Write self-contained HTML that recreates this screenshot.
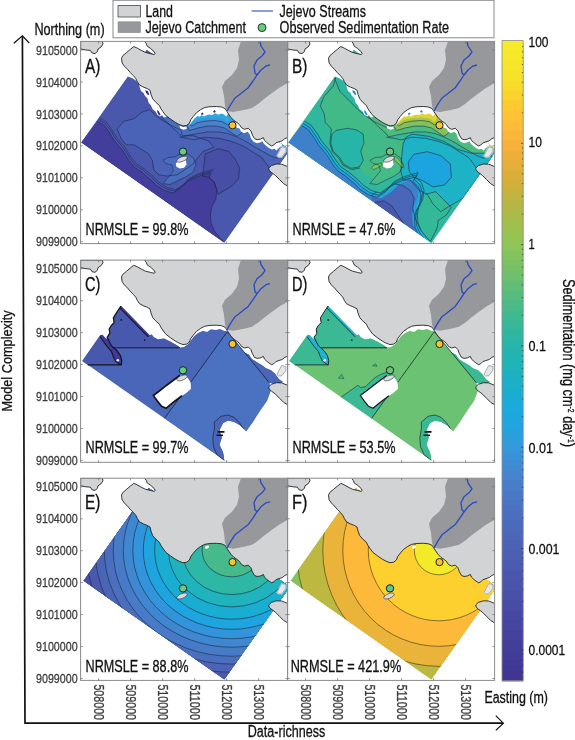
<!DOCTYPE html>
<html lang="en"><head><meta charset="utf-8"><title>Sedimentation model comparison</title>
<style>html,body{margin:0;padding:0;background:#fff}svg{display:block}</style></head>
<body>
<svg width="575" height="740" viewBox="0 0 575 740" font-family="'Liberation Sans', Arial, sans-serif">
<rect width="575" height="740" fill="#fff"/>
<defs>
<clipPath id="pc"><rect x="80.6" y="41.4" width="207.0" height="202.2"/></clipPath>
<clipPath id="dom"><path d="M81.0 142.4 L146.7 49.4 L290.1 150.0 L224.4 243.0Z"/></clipPath>
</defs>
<g transform="translate(0.0,0.0)">
<g clip-path="url(#pc)">
<g clip-path="url(#dom)"><path d="M81.0 142.4 L146.7 49.4 L290.1 150.0 L224.4 243.0Z" fill="#4957ad"/>
<path d="M179.2 137.2 L187.1 138.3 L193.9 139.9 L205.2 137.2 L218.8 138.3 L232.3 141.7 L243.7 146.2 L252.7 151.9 L261.7 157.5 L268.5 166.6 L271.9 172.2 L290.0 150.0 L290.0 100.0 L196.0 100.0 L194.0 113.0Z" fill="#4a63b6"/>
<path d="M117.1 129.1 L123.7 121.3 L134.1 118.7 L141.9 112.2 L149.7 109.6 L156.3 116.1 L164.1 121.3 L173.2 126.5 L181.0 130.4 L182.3 135.7 L192.8 135.7 L200.6 138.3 L208.4 140.9 L213.7 147.4 L203.2 151.3 L196.7 159.1 L192.8 164.3 L185.0 169.6 L177.1 174.8 L166.7 176.1 L158.9 174.8 L153.7 169.6 L152.3 160.4 L148.4 153.9 L140.6 148.7 L134.1 144.8 L126.3 144.8 L121.0 138.3Z" fill="#4a63b6"/>
<path d="M163.0 160.5 L168.0 157.5 L174.5 157.0 L179.0 154.5 L188.0 154.0 L193.5 158.0 L196.0 165.0 L193.0 172.0 L186.5 176.5 L178.0 180.5 L170.0 184.5 L163.0 183.5 L168.0 177.5 L173.5 171.0 L172.0 165.0 L166.0 163.5Z" fill="#4a6ebe"/>
<path d="M150.0 101.5 L156.0 109.5 L162.0 117.0 L168.0 123.5 L174.0 129.0 L179.0 133.5 L181.5 136.9 L189.4 135.1 L198.4 133.5 L207.5 131.9 L218.8 131.9 L227.8 133.5 L236.9 136.9 L245.9 141.4 L255.0 147.1 L262.9 151.6 L270.8 156.1 L277.6 158.4 L290.0 150.0 L290.0 100.0 L196.0 100.0 L194.0 113.0Z" fill="#4a6ebe"/>
<path d="M187.0 126.3 L189.4 130.6 L198.4 127.9 L207.5 126.1 L216.5 126.1 L224.4 127.9 L230.1 131.8 L236.9 136.3 L241.0 133.5 L243.5 130.5 L290.0 150.0 L290.0 100.0 L196.0 100.0 L194.0 113.0Z" fill="#4a80cc"/>
<path d="M189.5 124.0 L191.7 126.1 L197.3 122.7 L205.2 121.1 L214.3 120.5 L222.2 121.6 L227.8 125.0 L229.5 123.5 L233.5 121.0 L290.0 150.0 L290.0 100.0 L196.0 100.0 L194.0 113.0Z" fill="#3f95dc"/>
<path d="M191.5 120.5 L191.7 123.1 L197.3 119.7 L205.2 118.1 L214.3 117.5 L222.2 118.6 L227.8 122.0 L230.5 117.0 L290.0 150.0 L290.0 100.0 L196.0 100.0 L194.0 113.0Z" fill="#2aa8e0"/>
<path d="M202.6 176.1 L203.9 165.7 L205.2 153.9 L218.3 148.7 L228.7 151.3 L235.2 159.1 L239.7 168.3 L238.6 178.7 L231.3 186.5 L223.0 191.2 L218.3 194.3 L217.0 190.4 L214.3 182.6 L209.1 177.4Z" fill="#464ea5"/>
<path d="M81.0 142.4 L97.6 121.3 L104.1 125.2 L110.6 134.3 L114.5 140.9 L122.3 150.0 L128.9 160.4 L134.1 167.0 L141.9 172.2 L149.7 178.7 L156.3 185.2 L164.1 190.4 L173.2 193.0 L181.0 187.8 L187.6 181.3 L195.4 177.4 L203.2 174.8 L211.0 172.7 L209.1 177.4 L214.3 182.6 L217.0 190.4 L215.7 199.6 L211.7 207.4 L210.4 215.2 L211.0 223.0 L214.3 230.9 L219.6 237.4 L223.5 241.3 L224.4 243.0Z" fill="#433e9b"/>
<path d="M189.5 124.0 L191.7 126.1 L197.3 122.7 L205.2 121.1 L214.3 120.5 L222.2 121.6 L227.8 125.0 L229.5 123.5 L233.5 121.0" fill="none" stroke="#1b2340" stroke-width="0.55" stroke-linejoin="round"/>
<path d="M187.0 126.3 L189.4 130.6 L198.4 127.9 L207.5 126.1 L216.5 126.1 L224.4 127.9 L230.1 131.8 L236.9 136.3 L241.0 133.5 L243.5 130.5" fill="none" stroke="#1b2340" stroke-width="0.55" stroke-linejoin="round"/>
<path d="M150.0 101.5 L156.0 109.5 L162.0 117.0 L168.0 123.5 L174.0 129.0 L179.0 133.5 L181.5 136.9 L189.4 135.1 L198.4 133.5 L207.5 131.9 L218.8 131.9 L227.8 133.5 L236.9 136.9 L245.9 141.4 L255.0 147.1 L262.9 151.6 L270.8 156.1 L277.6 158.4" fill="none" stroke="#1b2340" stroke-width="0.55" stroke-linejoin="round"/>
<path d="M179.2 137.2 L187.1 138.3 L193.9 139.9 L205.2 137.2 L218.8 138.3 L232.3 141.7 L243.7 146.2 L252.7 151.9 L261.7 157.5 L268.5 166.6 L271.9 172.2" fill="none" stroke="#1b2340" stroke-width="0.55" stroke-linejoin="round"/>
<path d="M117.1 129.1 L123.7 121.3 L134.1 118.7 L141.9 112.2 L149.7 109.6 L156.3 116.1 L164.1 121.3 L173.2 126.5 L181.0 130.4 L182.3 135.7 L192.8 135.7 L200.6 138.3 L208.4 140.9 L213.7 147.4 L203.2 151.3 L196.7 159.1 L192.8 164.3 L185.0 169.6 L177.1 174.8 L166.7 176.1 L158.9 174.8 L153.7 169.6 L152.3 160.4 L148.4 153.9 L140.6 148.7 L134.1 144.8 L126.3 144.8 L121.0 138.3Z" fill="none" stroke="#1b2340" stroke-width="0.55" stroke-linejoin="round"/>
<path d="M202.6 176.1 L203.9 165.7 L205.2 153.9 L218.3 148.7 L228.7 151.3 L235.2 159.1 L239.7 168.3 L238.6 178.7 L231.3 186.5 L223.0 191.2 L218.3 194.3 L217.0 190.4 L214.3 182.6 L209.1 177.4Z" fill="none" stroke="#1b2340" stroke-width="0.55" stroke-linejoin="round"/>
<path d="M163.0 160.5 L168.0 157.5 L174.5 157.0 L179.0 154.5 L188.0 154.0 L193.5 158.0 L196.0 165.0 L193.0 172.0 L186.5 176.5 L178.0 180.5 L170.0 184.5 L163.0 183.5 L168.0 177.5 L173.5 171.0 L172.0 165.0 L166.0 163.5Z" fill="none" stroke="#1b2340" stroke-width="0.5" stroke-linejoin="round"/>
<path d="M97.6 121.3 L104.1 125.2 L110.6 134.3 L114.5 140.9 L122.3 150.0 L128.9 160.4 L134.1 167.0 L141.9 172.2 L149.7 178.7 L156.3 185.2 L164.1 190.4 L173.2 193.0 L181.0 187.8 L187.6 181.3 L195.4 177.4 L203.2 174.8 L211.0 172.7 L209.1 177.4 L214.3 182.6 L217.0 190.4 L215.7 199.6 L211.7 207.4 L210.4 215.2 L211.0 223.0 L214.3 230.9 L219.6 237.4 L223.5 241.3" fill="none" stroke="#1b2340" stroke-width="0.55" stroke-linejoin="round"/>
<path d="M98.8 119.5 L105.3 123.4 L111.9 132.5 L115.8 139.1 L123.6 148.2 L130.1 158.6 L135.4 165.2 L143.2 170.4 L151.0 176.9 L157.5 183.4 L165.4 188.6 L174.5 191.2 L182.3 186.0 L188.8 179.5 L196.7 175.6 L204.5 173.0 L212.3 170.9" fill="none" stroke="#1b2340" stroke-width="0.55" stroke-linejoin="round"/>
<path d="M99.9 118.0 L106.4 121.9 L112.9 131.1 L116.8 137.6 L124.6 146.7 L131.2 157.2 L136.4 163.7 L144.2 168.9 L152.0 175.4 L158.6 181.9 L166.4 187.2 L175.5 189.8 L183.3 184.6 L189.9 178.0 L197.7 174.1 L205.5 171.5 L213.3 169.4" fill="none" stroke="#1b2340" stroke-width="0.45" stroke-linejoin="round"/>
<path d="M189.0 126.0 L191.3 122.6 L194.4 118.6 L197.5 116.0 L199.5 116.8 L201.7 115.2 L204.0 116.4 L205.9 115.4 L209.0 114.6 L212.1 115.0 L215.3 113.2 L218.4 114.8 L221.5 113.6 L224.1 114.4 L226.2 116.5 L229.0 112.0 L222.0 104.0 L205.0 104.0 L193.0 112.0Z" fill="#fff"/>
<path d="M127.6 76.6 L132.5 78.3 L136.8 81.3 L139.2 84.8 L139.8 87.5 L141.0 91.0 L143.5 93.0 L145.0 96.0 L147.5 98.5 L148.5 102.5 L151.0 105.5 L152.5 109.0 L155.5 111.5 L157.5 115.0 L160.0 116.5 L162.0 115.2 L164.0 117.5 L166.5 116.8 L167.0 114.0 L160.0 104.0 L152.0 94.0 L150.0 88.0 L143.0 85.0 L134.0 74.0 L129.0 70.0Z" fill="#fff"/>
<path d="M234.0 122.0 L236.5 127.5 L239.5 128.5 L241.0 131.5 L244.0 133.2 L247.5 131.8 L249.5 134.0 L251.0 138.5 L253.5 141.8 L257.0 143.2 L260.0 142.6 L262.5 141.2 L263.6 143.6 L266.0 145.8 L269.0 148.0 L272.0 149.6 L274.5 148.8 L276.5 150.5 L279.0 148.0 L288.0 140.0 L288.0 130.0 L260.0 130.0 L245.0 122.0Z" fill="#fff"/>
<path d="M179.5 125.5 L183.0 127.0 L186.5 126.5 L186.8 128.8 L183.5 129.8 L180.0 128.2Z" fill="#fff"/>
<path d="M145.2 90.2 l2.6 0.8 l1.6 3.4 l-1.4 0.6 l-2 -2.2Z M157.2 109.8 l1.8 1.6 l1.6 3.6 l-1.6 0.4 l-1.6 -2.8Z M201 113.2 l2 -0.6 l0.6 1.6 l-2 0.8Z M213 111.2 l1.8 -1.2 l1 2 l-1.8 0.8Z" fill="#2d2a9c"/></g>
<path d="M144.7 41.4 L146.3 43.7 L147.3 46.3 L150.5 48.4 L154.1 51.6 L155.2 53.7 L154.1 54.5 L150.5 53.7 L145.3 52.4 L141.1 50.3 L136.9 47.9 L133.8 46.6 L130.7 49.0 L126.5 52.6 L122.8 55.7 L121.5 58.3 L122.1 63.0 L124.4 66.2 L127.5 69.3 L130.1 72.4 L133.3 75.6 L135.9 78.7 L137.4 81.8 L139.5 85.0 L143.2 87.0 L147.3 88.6 L150.0 90.2 L151.0 94.3 L152.7 98.8 L155.9 102.4 L159.5 105.6 L160.6 108.2 L162.7 111.3 L165.8 115.5 L170.5 119.1 L175.2 122.3 L178.8 124.3 L183.0 125.9 L186.7 125.4 L189.3 123.3 L190.8 119.7 L193.3 116.4 L196.5 112.7 L200.7 109.6 L204.8 107.5 L210.0 106.7 L216.3 106.5 L221.5 107.0 L225.2 108.6 L226.7 111.2 L228.8 114.3 L230.9 117.4 L234.0 120.6 L237.2 122.7 L239.4 124.6 L241.5 127.7 L244.6 129.3 L248.3 128.3 L250.9 130.9 L252.4 135.0 L254.5 138.7 L257.1 139.7 L260.3 139.2 L263.4 137.7 L264.4 140.3 L266.5 142.3 L269.1 144.4 L271.7 146.0 L273.8 145.0 L275.9 142.9 L279.0 141.8 L282.2 140.8 L284.8 138.7 L287.6 137.5 L287.6 41.4Z" fill="#d2d3d5"/>
<path d="M144.7 41.4 L146.3 43.7 L147.3 46.3 L150.5 48.4 L154.1 51.6 L155.2 53.7 L154.1 54.5 L150.5 53.7 L145.3 52.4 L141.1 50.3 L136.9 47.9 L133.8 46.6 L130.7 49.0 L126.5 52.6 L122.8 55.7 L121.5 58.3 L122.1 63.0 L124.4 66.2 L127.5 69.3 L130.1 72.4 L133.3 75.6 L135.9 78.7 L137.4 81.8 L139.5 85.0 L143.2 87.0 L147.3 88.6 L150.0 90.2 L151.0 94.3 L152.7 98.8 L155.9 102.4 L159.5 105.6 L160.6 108.2 L162.7 111.3 L165.8 115.5 L170.5 119.1 L175.2 122.3 L178.8 124.3 L183.0 125.9 L186.7 125.4 L189.3 123.3 L190.8 119.7 L193.3 116.4 L196.5 112.7 L200.7 109.6 L204.8 107.5 L210.0 106.7 L216.3 106.5 L221.5 107.0 L225.2 108.6 L226.7 111.2 L228.8 114.3 L230.9 117.4 L234.0 120.6 L237.2 122.7 L239.4 124.6 L241.5 127.7 L244.6 129.3 L248.3 128.3 L250.9 130.9 L252.4 135.0 L254.5 138.7 L257.1 139.7 L260.3 139.2 L263.4 137.7 L264.4 140.3 L266.5 142.3 L269.1 144.4 L271.7 146.0 L273.8 145.0 L275.9 142.9 L279.0 141.8 L282.2 140.8 L284.8 138.7 L287.6 137.5" fill="none" stroke="#222" stroke-width="0.9" stroke-linejoin="round"/>
<path d="M80.6 41.4 L102.4 41.4 L103.0 44.0 L101.0 47.0 L98.0 49.0 L97.4 51.6 L95.0 53.6 L92.0 53.0 L90.4 50.4 L86.0 50.0 L80.6 49.0Z" fill="#d2d3d5" stroke="#222" stroke-width="0.9"/>
<path d="M268.7 168.2 L271.3 165.6 L276.5 164.0 L281.7 164.2 L287.6 166.6 L287.6 186.0 L283.8 183.8 L279.7 179.7 L275.5 175.5 L271.3 172.3 L269.2 170.3Z" fill="#d2d3d5" stroke="#222" stroke-width="0.9"/>
<path d="M277.0 155.7 L281.7 146.8 L285.9 147.8 L285.9 151.5 L281.7 157.2 L278.6 157.2Z" fill="#e6e6e9" stroke="#fff" stroke-width="1.2"/>
<path d="M277.0 155.7 L281.7 146.8 L285.9 147.8 L285.9 151.5 L281.7 157.2 L278.6 157.2Z" fill="none" stroke="#222" stroke-width="0.4"/>
<path d="M241.0 41.4 L238.0 50.0 L239.0 60.0 L237.0 68.0 L232.0 75.0 L225.0 81.0 L222.0 87.0 L224.0 96.0 L225.0 106.0 L227.0 111.0 L233.0 112.0 L244.0 110.0 L252.0 108.0 L258.0 104.0 L264.0 99.0 L272.0 93.0 L279.0 88.0 L287.6 83.0 L287.6 41.4Z" fill="#96989b"/>
<path d="M260.0 41.4 L261.0 46.0 L265.0 52.0 L262.0 56.0 L257.0 60.0 L254.0 66.0 L255.0 73.0 L257.0 75.0 L253.0 81.0 L248.0 88.0 L244.0 91.0 L239.0 95.0 L235.0 98.0 L231.0 104.0 L227.0 111.0" fill="none" stroke="#2a4ac4" stroke-width="1.35" stroke-linejoin="round"/>
<path d="M270.0 65.0 L266.0 66.0 L261.0 70.0 L257.0 75.0" fill="none" stroke="#2a4ac4" stroke-width="1.35" stroke-linejoin="round"/>
<path d="M175.8 163.5 L178.5 160.5 L186 160.2 L186.5 164.5 L184 167.8 L179.5 168.4 L176.2 166.5Z" fill="#fff"/>
<ellipse cx="182.0" cy="159.2" rx="5.6" ry="2.3" transform="rotate(-22 182.0 159.2)" fill="#d8d9db" stroke="#222" stroke-width="0.5"/>
<circle cx="232.5" cy="125.3" r="3.6" fill="#fcc32f" stroke="#222" stroke-width="1"/><circle cx="183.0" cy="151.6" r="3.7" fill="#62cf74" stroke="#1c1c2c" stroke-width="1"/>
</g>
<rect x="80.6" y="41.4" width="207.0" height="202.2" fill="none" stroke="#8a8a8a" stroke-width="1"/>
<path d="M80.6 50.0h2.2 M287.6 50.0h-2.2 M80.6 82.0h2.2 M287.6 82.0h-2.2 M80.6 113.9h2.2 M287.6 113.9h-2.2 M80.6 145.8h2.2 M287.6 145.8h-2.2 M80.6 177.8h2.2 M287.6 177.8h-2.2 M80.6 209.8h2.2 M287.6 209.8h-2.2 M80.6 241.7h2.2 M287.6 241.7h-2.2 M98.6 41.4v2.2 M98.6 243.6v-2.2 M130.6 41.4v2.2 M130.6 243.6v-2.2 M162.6 41.4v2.2 M162.6 243.6v-2.2 M194.6 41.4v2.2 M194.6 243.6v-2.2 M226.6 41.4v2.2 M226.6 243.6v-2.2 M258.6 41.4v2.2 M258.6 243.6v-2.2" stroke="#6a6a6a" stroke-width="0.7" fill="none"/>
<text x="85.0" y="72.6" font-size="20.3" text-anchor="start" fill="#111" stroke="#111" stroke-width="0.3" textLength="15.4" lengthAdjust="spacingAndGlyphs">A)</text>
<text x="85.6" y="234.8" font-size="16.0" text-anchor="start" fill="#111" stroke="#111" stroke-width="0.3" textLength="102.8" lengthAdjust="spacingAndGlyphs">NRMSLE = 99.8%</text>
</g>
<g transform="translate(207.0,0.0)">
<g clip-path="url(#pc)">
<g clip-path="url(#dom)"><path d="M81.0 142.4 L146.7 49.4 L290.1 150.0 L224.4 243.0Z" fill="#42ba88"/>
<path d="M81.0 142.4 L97.6 121.3 L128.6 76.1 L128.9 77.0 L126.3 86.1 L117.1 96.5 L113.2 105.7 L117.1 113.5 L118.4 122.6 L124.4 129.1 L122.9 143.5 L125.5 151.8 L132.0 158.6 L135.9 165.1 L144.5 169.6 L153.1 168.0 L157.6 174.8 L165.4 178.7 L177.1 176.9 L186.3 171.7 L194.1 165.7 L200.6 157.0 L208.4 151.8 L218.9 148.7 L224.1 153.9 L222.8 164.3 L213.7 172.7 L211.0 172.7 L203.2 174.8 L195.4 177.4 L187.6 181.3 L181.0 187.8 L173.2 193.0 L164.1 190.4 L156.3 185.2 L149.7 178.7 L141.9 172.2 L134.1 167.0 L128.9 160.4 L122.3 150.0 L114.5 140.9 L110.6 134.3 L104.1 125.2 L97.6 121.3Z" fill="#31b79c"/>
<path d="M127.6 78.3 L132.8 91.3 L140.6 99.1 L151.0 109.6 L158.9 116.1 L166.7 121.3 L177.1 126.5 L182.3 128.3 L187.6 122.6 L156.3 86.1 L143.2 73.0Z" fill="#2cb6a2"/>
<path d="M196.1 139.6 L262.6 168.3 L286.1 157.8 L286.1 251.7 L192.2 251.7 L192.2 176.1Z" fill="#31b79c"/>
<path d="M125.0 134.3 L128.9 130.4 L140.6 128.3 L149.7 129.9 L156.3 134.3 L156.8 143.5 L153.7 151.3 L156.3 160.4 L152.3 167.0 L144.5 168.3 L136.7 164.3 L132.8 157.8 L126.3 151.3 L123.7 143.5Z" fill="#27b5a8"/>
<path d="M163.0 160.5 L168.0 157.5 L174.5 157.0 L179.0 154.5 L188.0 154.0 L193.5 158.0 L196.0 165.0 L193.0 172.0 L186.5 176.5 L178.0 180.5 L170.0 184.5 L163.0 183.5 L168.0 177.5 L173.5 171.0 L172.0 165.0 L166.0 163.5Z" fill="#45bb85"/>
<path d="M179.2 137.2 L187.1 138.3 L193.9 139.9 L205.2 137.2 L218.8 138.3 L232.3 141.7 L243.7 146.2 L252.7 151.9 L261.7 157.5 L268.5 166.6 L271.9 172.2 L290.0 150.0 L290.0 100.0 L196.0 100.0 L194.0 113.0Z" fill="#35b896"/>
<path d="M150.0 101.5 L156.0 109.5 L162.0 117.0 L168.0 123.5 L174.0 129.0 L179.0 133.5 L181.5 136.9 L189.4 135.1 L198.4 133.5 L207.5 131.9 L218.8 131.9 L227.8 133.5 L236.9 136.9 L245.9 141.4 L255.0 147.1 L262.9 151.6 L270.8 156.1 L277.6 158.4 L290.0 150.0 L290.0 100.0 L196.0 100.0 L194.0 113.0Z" fill="#4dbb80"/>
<path d="M187.0 126.3 L189.4 130.6 L198.4 127.9 L207.5 126.1 L216.5 126.1 L224.4 127.9 L230.1 131.8 L236.9 136.3 L241.0 133.5 L243.5 130.5 L290.0 150.0 L290.0 100.0 L196.0 100.0 L194.0 113.0Z" fill="#7fc35f"/>
<path d="M189.5 124.0 L191.7 126.1 L197.3 122.7 L205.2 121.1 L214.3 120.5 L222.2 121.6 L227.8 125.0 L229.5 123.5 L233.5 121.0 L290.0 150.0 L290.0 100.0 L196.0 100.0 L194.0 113.0Z" fill="#a8c64a"/>
<path d="M191.5 120.5 L191.7 123.1 L197.3 119.7 L205.2 118.1 L214.3 117.5 L222.2 118.6 L227.8 122.0 L230.5 117.0 L290.0 150.0 L290.0 100.0 L196.0 100.0 L194.0 113.0Z" fill="#dcd338"/>
<path d="M196.2 143.3 L199.3 137.1 L205.0 134.1 L222.2 136.4 L237.5 141.7 L250.9 149.4 L264.3 153.2 L277.7 153.2 L285.7 156.6 L266.2 183.8 L255.9 198.4 L241.4 206.8 L233.7 211.7 L226.0 204.1 L220.3 194.5 L212.7 190.7 L203.1 180.0 L196.2 180.0 L193.9 171.6 L194.7 156.3Z" fill="#1db2c6"/>
<path d="M201.2 162.0 L206.9 154.3 L220.3 151.7 L233.7 155.5 L243.3 163.9 L244.4 177.3 L237.5 185.0 L226.0 186.9 L216.5 181.1 L206.9 177.3 L202.3 171.6Z" fill="#1ca4de"/>
<path d="M218.3 194.3 L228.7 191.7 L236.5 199.6 L244.3 207.4 L239.1 215.2 L231.3 220.4 L230.0 228.3 L226.1 236.1 L223.5 241.3 L219.6 237.4 L214.3 230.9 L211.0 223.0 L210.4 215.2 L211.7 207.4 L215.7 199.6Z" fill="#33b898"/>
<path d="M164.5 168.0 L167.0 165.0 L172.0 163.5 L175.0 163.0 L174.0 166.0 L169.0 168.5 L166.0 169.5Z" fill="#7cc65e" stroke="#1b2340" stroke-width="0.4"/>
<path d="M186.5 156.5 L189.5 157.0 L193.0 161.0 L196.5 165.0 L197.0 168.0 L194.0 167.0 L191.0 163.0 L188.0 161.0Z" fill="#7cc65e" stroke="#1b2340" stroke-width="0.4"/>
<clipPath id="deepclip"><path d="M81.0 142.4 L97.6 121.3 L104.1 125.2 L110.6 134.3 L114.5 140.9 L122.3 150.0 L128.9 160.4 L134.1 167.0 L141.9 172.2 L149.7 178.7 L156.3 185.2 L164.1 190.4 L173.2 193.0 L181.0 187.8 L187.6 181.3 L195.4 177.4 L203.2 174.8 L211.0 172.7 L209.1 177.4 L214.3 182.6 L217.0 190.4 L215.7 199.6 L211.7 207.4 L210.4 215.2 L211.0 223.0 L214.3 230.9 L219.6 237.4 L223.5 241.3 L224.4 243.0Z"/></clipPath>
<g clip-path="url(#deepclip)"><path d="M81.0 142.4 L97.6 121.3 L104.1 125.2 L110.6 134.3 L114.5 140.9 L122.3 150.0 L128.9 160.4 L134.1 167.0 L141.9 172.2 L149.7 178.7 L156.3 185.2 L164.1 190.4 L173.2 193.0 L181.0 187.8 L187.6 181.3 L195.4 177.4 L203.2 174.8 L211.0 172.7 L209.1 177.4 L214.3 182.6 L217.0 190.4 L215.7 199.6 L211.7 207.4 L210.4 215.2 L211.0 223.0 L214.3 230.9 L219.6 237.4 L223.5 241.3 L224.4 243.0Z" fill="#3f80cb"/>
<path d="M164.1 195.7 L171.9 190.4 L181.0 187.8 L187.6 183.9 L195.4 185.2 L203.2 190.4 L207.1 198.3 L205.8 208.7 L208.4 219.1 L213.7 229.6 L220.2 237.4 L224.3 242.9 L166.7 202.4Z" fill="#4a66b8"/>
<path d="M168.0 202.4 L177.1 200.9 L185.0 206.1 L190.2 213.9 L195.4 221.7 L200.1 228.3 L203.2 230.9 L182.3 213.9Z" fill="#4a58ac"/>
<path d="M97.6 121.3 L104.1 125.2 L110.6 134.3 L114.5 140.9 L122.3 150.0 L128.9 160.4 L134.1 167.0 L141.9 172.2 L149.7 178.7 L156.3 185.2 L164.1 190.4 L173.2 193.0 L181.0 187.8 L187.6 181.3 L195.4 177.4 L203.2 174.8 L211.0 172.7 L209.1 177.4 L214.3 182.6 L217.0 190.4 L215.7 199.6 L211.7 207.4 L210.4 215.2 L211.0 223.0 L214.3 230.9 L219.6 237.4 L223.5 241.3" fill="none" stroke="#1fa5dc" stroke-width="10.4" stroke-linejoin="round"/>
<path d="M97.6 121.3 L104.1 125.2 L110.6 134.3 L114.5 140.9 L122.3 150.0 L128.9 160.4 L134.1 167.0 L141.9 172.2 L149.7 178.7 L156.3 185.2 L164.1 190.4 L173.2 193.0 L181.0 187.8 L187.6 181.3 L195.4 177.4 L203.2 174.8 L211.0 172.7 L209.1 177.4 L214.3 182.6 L217.0 190.4 L215.7 199.6 L211.7 207.4 L210.4 215.2 L211.0 223.0 L214.3 230.9 L219.6 237.4 L223.5 241.3" fill="none" stroke="#1fb5c8" stroke-width="5.2" stroke-linejoin="round"/>
<path d="M96.1 123.4 L102.6 127.3 L109.1 136.5 L113.0 143.0 L120.9 152.1 L127.4 162.6 L132.6 169.1 L140.4 174.3 L148.2 180.8 L154.8 187.3 L162.6 192.6 L171.7 195.2 L179.6 190.0 L186.1 183.4 L193.9 179.5 L201.7 176.9 L209.6 174.8 L207.6 179.5 L212.9 184.7 L215.5 192.6 L214.2 201.7 L210.2 209.5 L208.9 217.3 L209.5 225.2 L212.9 233.0 L218.1 239.5 L222.0 243.4" fill="none" stroke="#1b2340" stroke-width="0.55" stroke-linejoin="round"/><path d="M94.6 125.6 L101.1 129.5 L107.6 138.6 L111.5 145.1 L119.4 154.3 L125.9 164.7 L131.1 171.2 L138.9 176.4 L146.8 183.0 L153.3 189.5 L161.1 194.7 L170.2 197.3 L178.1 192.1 L184.6 185.6 L192.4 181.7 L200.2 179.0 L208.1 177.0 L206.1 181.7 L211.4 186.9 L214.0 194.7 L212.7 203.8 L208.8 211.7 L207.5 219.5 L208.0 227.3 L211.4 235.1 L216.6 241.7 L220.5 245.6" fill="none" stroke="#1b2340" stroke-width="0.55" stroke-linejoin="round"/>
<path d="M164.1 195.7 L171.9 190.4 L181.0 187.8 L187.6 183.9 L195.4 185.2 L203.2 190.4 L207.1 198.3 L205.8 208.7 L208.4 219.1 L213.7 229.6 L220.2 237.4" fill="none" stroke="#1b2340" stroke-width="0.55" stroke-linejoin="round"/><path d="M168.0 202.4 L177.1 200.9 L185.0 206.1 L190.2 213.9 L195.4 221.7 L200.1 228.3 L203.2 230.9" fill="none" stroke="#1b2340" stroke-width="0.55" stroke-linejoin="round"/>
</g>
<path d="M189.5 124.0 L191.7 126.1 L197.3 122.7 L205.2 121.1 L214.3 120.5 L222.2 121.6 L227.8 125.0 L229.5 123.5 L233.5 121.0" fill="none" stroke="#1b2340" stroke-width="0.55" stroke-linejoin="round"/>
<path d="M187.0 126.3 L189.4 130.6 L198.4 127.9 L207.5 126.1 L216.5 126.1 L224.4 127.9 L230.1 131.8 L236.9 136.3 L241.0 133.5 L243.5 130.5" fill="none" stroke="#1b2340" stroke-width="0.55" stroke-linejoin="round"/>
<path d="M150.0 101.5 L156.0 109.5 L162.0 117.0 L168.0 123.5 L174.0 129.0 L179.0 133.5 L181.5 136.9 L189.4 135.1 L198.4 133.5 L207.5 131.9 L218.8 131.9 L227.8 133.5 L236.9 136.9 L245.9 141.4 L255.0 147.1 L262.9 151.6 L270.8 156.1 L277.6 158.4" fill="none" stroke="#1b2340" stroke-width="0.55" stroke-linejoin="round"/>
<path d="M179.2 137.2 L187.1 138.3 L193.9 139.9 L205.2 137.2 L218.8 138.3 L232.3 141.7 L243.7 146.2 L252.7 151.9 L261.7 157.5 L268.5 166.6 L271.9 172.2" fill="none" stroke="#1b2340" stroke-width="0.55" stroke-linejoin="round"/>
<path d="M125.0 134.3 L128.9 130.4 L140.6 128.3 L149.7 129.9 L156.3 134.3 L156.8 143.5 L153.7 151.3 L156.3 160.4 L152.3 167.0 L144.5 168.3 L136.7 164.3 L132.8 157.8 L126.3 151.3 L123.7 143.5Z" fill="none" stroke="#1b2340" stroke-width="0.55" stroke-linejoin="round"/>
<path d="M201.2 162.0 L206.9 154.3 L220.3 151.7 L233.7 155.5 L243.3 163.9 L244.4 177.3 L237.5 185.0 L226.0 186.9 L216.5 181.1 L206.9 177.3 L202.3 171.6Z" fill="none" stroke="#1b2340" stroke-width="0.55" stroke-linejoin="round"/>
<path d="M196.2 143.3 L199.3 137.1 L205.0 134.1 L222.2 136.4 L237.5 141.7 L250.9 149.4 L264.3 153.2 L277.7 153.2 L285.7 156.6 L266.2 183.8 L255.9 198.4 L241.4 206.8 L233.7 211.7 L226.0 204.1 L220.3 194.5 L212.7 190.7 L203.1 180.0 L196.2 180.0 L193.9 171.6 L194.7 156.3Z" fill="none" stroke="#1b2340" stroke-width="0.55" stroke-linejoin="round"/>
<path d="M128.9 77.0 L126.3 86.1 L117.1 96.5 L113.2 105.7 L117.1 113.5 L118.4 122.6 L124.4 129.1 L122.9 143.5 L125.5 151.8 L132.0 158.6 L135.9 165.1 L144.5 169.6 L153.1 168.0" fill="none" stroke="#1b2340" stroke-width="0.55" stroke-linejoin="round"/>
<path d="M127.6 78.3 L132.8 91.3 L140.6 99.1 L151.0 109.6 L158.9 116.1 L166.7 121.3 L177.1 126.5 L182.3 128.3" fill="none" stroke="#1b2340" stroke-width="0.55" stroke-linejoin="round"/>
<path d="M218.3 194.3 L228.7 191.7 L236.5 199.6 L244.3 207.4 L239.1 215.2 L231.3 220.4 L230.0 228.3 L226.1 236.1 L223.5 241.3" fill="none" stroke="#1b2340" stroke-width="0.55" stroke-linejoin="round"/>
<path d="M163.0 160.5 L168.0 157.5 L174.5 157.0 L179.0 154.5 L188.0 154.0 L193.5 158.0 L196.0 165.0 L193.0 172.0 L186.5 176.5 L178.0 180.5 L170.0 184.5 L163.0 183.5 L168.0 177.5 L173.5 171.0 L172.0 165.0 L166.0 163.5Z" fill="none" stroke="#1b2340" stroke-width="0.5" stroke-linejoin="round"/>
<path d="M97.6 121.3 L104.1 125.2 L110.6 134.3 L114.5 140.9 L122.3 150.0 L128.9 160.4 L134.1 167.0 L141.9 172.2 L149.7 178.7 L156.3 185.2 L164.1 190.4 L173.2 193.0 L181.0 187.8 L187.6 181.3 L195.4 177.4 L203.2 174.8 L211.0 172.7 L209.1 177.4 L214.3 182.6 L217.0 190.4 L215.7 199.6 L211.7 207.4 L210.4 215.2 L211.0 223.0 L214.3 230.9 L219.6 237.4 L223.5 241.3" fill="none" stroke="#1b2340" stroke-width="0.55" stroke-linejoin="round"/>
<path d="M189.0 126.0 L191.3 122.6 L194.4 118.6 L197.5 116.0 L199.5 116.8 L201.7 115.2 L204.0 116.4 L205.9 115.4 L209.0 114.6 L212.1 115.0 L215.3 113.2 L218.4 114.8 L221.5 113.6 L224.1 114.4 L226.2 116.5 L229.0 112.0 L222.0 104.0 L205.0 104.0 L193.0 112.0Z" fill="#fff"/>
<path d="M127.6 76.6 L132.5 78.3 L136.8 81.3 L139.2 84.8 L139.8 87.5 L141.0 91.0 L143.5 93.0 L145.0 96.0 L147.5 98.5 L148.5 102.5 L151.0 105.5 L152.5 109.0 L155.5 111.5 L157.5 115.0 L160.0 116.5 L162.0 115.2 L164.0 117.5 L166.5 116.8 L167.0 114.0 L160.0 104.0 L152.0 94.0 L150.0 88.0 L143.0 85.0 L134.0 74.0 L129.0 70.0Z" fill="#fff"/>
<path d="M234.0 122.0 L236.5 127.5 L239.5 128.5 L241.0 131.5 L244.0 133.2 L247.5 131.8 L249.5 134.0 L251.0 138.5 L253.5 141.8 L257.0 143.2 L260.0 142.6 L262.5 141.2 L263.6 143.6 L266.0 145.8 L269.0 148.0 L272.0 149.6 L274.5 148.8 L276.5 150.5 L279.0 148.0 L288.0 140.0 L288.0 130.0 L260.0 130.0 L245.0 122.0Z" fill="#fff"/>
<path d="M179.5 125.5 L183.0 127.0 L186.5 126.5 L186.8 128.8 L183.5 129.8 L180.0 128.2Z" fill="#fff"/>
<path d="M145.2 90.2 l2.6 0.8 l1.6 3.4 l-1.4 0.6 l-2 -2.2Z M157.2 109.8 l1.8 1.6 l1.6 3.6 l-1.6 0.4 l-1.6 -2.8Z M201 113.2 l2 -0.6 l0.6 1.6 l-2 0.8Z M213 111.2 l1.8 -1.2 l1 2 l-1.8 0.8Z" fill="#1a8fd0"/></g>
<path d="M144.7 41.4 L146.3 43.7 L147.3 46.3 L150.5 48.4 L154.1 51.6 L155.2 53.7 L154.1 54.5 L150.5 53.7 L145.3 52.4 L141.1 50.3 L136.9 47.9 L133.8 46.6 L130.7 49.0 L126.5 52.6 L122.8 55.7 L121.5 58.3 L122.1 63.0 L124.4 66.2 L127.5 69.3 L130.1 72.4 L133.3 75.6 L135.9 78.7 L137.4 81.8 L139.5 85.0 L143.2 87.0 L147.3 88.6 L150.0 90.2 L151.0 94.3 L152.7 98.8 L155.9 102.4 L159.5 105.6 L160.6 108.2 L162.7 111.3 L165.8 115.5 L170.5 119.1 L175.2 122.3 L178.8 124.3 L183.0 125.9 L186.7 125.4 L189.3 123.3 L190.8 119.7 L193.3 116.4 L196.5 112.7 L200.7 109.6 L204.8 107.5 L210.0 106.7 L216.3 106.5 L221.5 107.0 L225.2 108.6 L226.7 111.2 L228.8 114.3 L230.9 117.4 L234.0 120.6 L237.2 122.7 L239.4 124.6 L241.5 127.7 L244.6 129.3 L248.3 128.3 L250.9 130.9 L252.4 135.0 L254.5 138.7 L257.1 139.7 L260.3 139.2 L263.4 137.7 L264.4 140.3 L266.5 142.3 L269.1 144.4 L271.7 146.0 L273.8 145.0 L275.9 142.9 L279.0 141.8 L282.2 140.8 L284.8 138.7 L287.6 137.5 L287.6 41.4Z" fill="#d2d3d5"/>
<path d="M144.7 41.4 L146.3 43.7 L147.3 46.3 L150.5 48.4 L154.1 51.6 L155.2 53.7 L154.1 54.5 L150.5 53.7 L145.3 52.4 L141.1 50.3 L136.9 47.9 L133.8 46.6 L130.7 49.0 L126.5 52.6 L122.8 55.7 L121.5 58.3 L122.1 63.0 L124.4 66.2 L127.5 69.3 L130.1 72.4 L133.3 75.6 L135.9 78.7 L137.4 81.8 L139.5 85.0 L143.2 87.0 L147.3 88.6 L150.0 90.2 L151.0 94.3 L152.7 98.8 L155.9 102.4 L159.5 105.6 L160.6 108.2 L162.7 111.3 L165.8 115.5 L170.5 119.1 L175.2 122.3 L178.8 124.3 L183.0 125.9 L186.7 125.4 L189.3 123.3 L190.8 119.7 L193.3 116.4 L196.5 112.7 L200.7 109.6 L204.8 107.5 L210.0 106.7 L216.3 106.5 L221.5 107.0 L225.2 108.6 L226.7 111.2 L228.8 114.3 L230.9 117.4 L234.0 120.6 L237.2 122.7 L239.4 124.6 L241.5 127.7 L244.6 129.3 L248.3 128.3 L250.9 130.9 L252.4 135.0 L254.5 138.7 L257.1 139.7 L260.3 139.2 L263.4 137.7 L264.4 140.3 L266.5 142.3 L269.1 144.4 L271.7 146.0 L273.8 145.0 L275.9 142.9 L279.0 141.8 L282.2 140.8 L284.8 138.7 L287.6 137.5" fill="none" stroke="#222" stroke-width="0.9" stroke-linejoin="round"/>
<path d="M80.6 41.4 L102.4 41.4 L103.0 44.0 L101.0 47.0 L98.0 49.0 L97.4 51.6 L95.0 53.6 L92.0 53.0 L90.4 50.4 L86.0 50.0 L80.6 49.0Z" fill="#d2d3d5" stroke="#222" stroke-width="0.9"/>
<path d="M268.7 168.2 L271.3 165.6 L276.5 164.0 L281.7 164.2 L287.6 166.6 L287.6 186.0 L283.8 183.8 L279.7 179.7 L275.5 175.5 L271.3 172.3 L269.2 170.3Z" fill="#d2d3d5" stroke="#222" stroke-width="0.9"/>
<path d="M277.0 155.7 L281.7 146.8 L285.9 147.8 L285.9 151.5 L281.7 157.2 L278.6 157.2Z" fill="#e6e6e9" stroke="#fff" stroke-width="1.2"/>
<path d="M277.0 155.7 L281.7 146.8 L285.9 147.8 L285.9 151.5 L281.7 157.2 L278.6 157.2Z" fill="none" stroke="#222" stroke-width="0.4"/>
<path d="M241.0 41.4 L238.0 50.0 L239.0 60.0 L237.0 68.0 L232.0 75.0 L225.0 81.0 L222.0 87.0 L224.0 96.0 L225.0 106.0 L227.0 111.0 L233.0 112.0 L244.0 110.0 L252.0 108.0 L258.0 104.0 L264.0 99.0 L272.0 93.0 L279.0 88.0 L287.6 83.0 L287.6 41.4Z" fill="#96989b"/>
<path d="M260.0 41.4 L261.0 46.0 L265.0 52.0 L262.0 56.0 L257.0 60.0 L254.0 66.0 L255.0 73.0 L257.0 75.0 L253.0 81.0 L248.0 88.0 L244.0 91.0 L239.0 95.0 L235.0 98.0 L231.0 104.0 L227.0 111.0" fill="none" stroke="#2a4ac4" stroke-width="1.35" stroke-linejoin="round"/>
<path d="M270.0 65.0 L266.0 66.0 L261.0 70.0 L257.0 75.0" fill="none" stroke="#2a4ac4" stroke-width="1.35" stroke-linejoin="round"/>
<path d="M175.8 163.5 L178.5 160.5 L186 160.2 L186.5 164.5 L184 167.8 L179.5 168.4 L176.2 166.5Z" fill="#fff"/>
<ellipse cx="182.0" cy="159.2" rx="5.6" ry="2.3" transform="rotate(-22 182.0 159.2)" fill="#d8d9db" stroke="#222" stroke-width="0.5"/>
<circle cx="232.5" cy="125.3" r="3.6" fill="#fcc32f" stroke="#222" stroke-width="1"/><circle cx="183.0" cy="151.6" r="3.7" fill="#6cc87a" stroke="#1c1c2c" stroke-width="1"/>
</g>
<rect x="80.6" y="41.4" width="207.0" height="202.2" fill="none" stroke="#8a8a8a" stroke-width="1"/>
<path d="M80.6 50.0h2.2 M287.6 50.0h-2.2 M80.6 82.0h2.2 M287.6 82.0h-2.2 M80.6 113.9h2.2 M287.6 113.9h-2.2 M80.6 145.8h2.2 M287.6 145.8h-2.2 M80.6 177.8h2.2 M287.6 177.8h-2.2 M80.6 209.8h2.2 M287.6 209.8h-2.2 M80.6 241.7h2.2 M287.6 241.7h-2.2 M98.6 41.4v2.2 M98.6 243.6v-2.2 M130.6 41.4v2.2 M130.6 243.6v-2.2 M162.6 41.4v2.2 M162.6 243.6v-2.2 M194.6 41.4v2.2 M194.6 243.6v-2.2 M226.6 41.4v2.2 M226.6 243.6v-2.2 M258.6 41.4v2.2 M258.6 243.6v-2.2" stroke="#6a6a6a" stroke-width="0.7" fill="none"/>
<text x="85.0" y="72.6" font-size="20.3" text-anchor="start" fill="#111" stroke="#111" stroke-width="0.3" textLength="15.4" lengthAdjust="spacingAndGlyphs">B)</text>
<text x="85.6" y="234.8" font-size="16.0" text-anchor="start" fill="#111" stroke="#111" stroke-width="0.3" textLength="102.8" lengthAdjust="spacingAndGlyphs">NRMSLE = 47.6%</text>
</g>
<g transform="translate(0.0,218.7)">
<g clip-path="url(#pc)">
<path d="M82.3 142.3 L100.2 116.6 L102.3 117.2 L103.0 122.1 L107.1 127.7 L111.3 132.6 L113.4 138.1 L115.5 142.3 L119.0 145.1 L121.3 146.2 L121.3 146.2 L121.7 141.6 L120.3 136.7 L116.9 131.9 L111.3 127.0 L107.1 118.6 L107.1 118.6 L109.9 114.5 L109.2 110.3 L111.3 106.8 L114.1 104.0 L113.4 99.2 L115.5 95.7 L121.0 87.3 L149.6 116.6 L151.7 115.9 L153.7 118.6 L158.0 120.9 L164.0 119.9 L170.0 122.9 L176.0 126.0 L180.0 128.9 L184.0 128.2 L188.0 125.5 L191.0 121.5 L194.0 117.5 L198.0 114.2 L203.0 112.0 L207.0 113.2 L211.0 110.5 L216.0 111.3 L220.0 110.2 L224.0 112.0 L227.4 112.9 L230.5 119.5 L234.0 125.5 L239.5 130.0 L244.0 133.5 L249.0 136.0 L252.0 140.5 L257.0 143.5 L262.0 146.5 L266.0 149.5 L271.0 151.5 L275.0 155.0 L279.0 160.5 L283.0 163.2 L277.0 165.5 L269.3 164.0 L270.5 172.5 L267.0 182.0 L261.0 190.5 L252.3 204.0 L246.2 212.5 L243.7 210.0 L240.0 206.5 L234.0 203.0 L228.0 201.8 L223.0 204.2 L219.4 211.5 L221.8 218.8 L219.4 226.0 L223.0 233.5 L224.3 241.6Z" fill="#4a66b8"/>
<path d="M227.4 112.9 L269.3 164.0 L270.5 172.5 L267.0 182.0 L261.0 190.5 L252.3 204.0 L246.2 212.5 L243.7 210.0 L240.0 206.5 L234.0 203.0 L228.0 201.8 L223.0 204.2 L219.4 211.5 L221.8 218.8 L219.4 226.0 L223.0 233.5 L224.3 241.6 L164.6 199.6Z" fill="#4a72c0"/>
<path d="M107.1 118.6 L109.9 114.5 L109.2 110.3 L111.3 106.8 L114.1 104.0 L113.4 99.2 L115.5 95.7 L121.0 87.3 L149.6 116.6 L151.7 115.9 L153.7 118.6 L158.0 120.9 L164.0 119.9 L170.0 122.9 L176.0 126.0 L180.0 128.9 L180.0 129.1 L113.4 129.1 L111.3 127.0Z" fill="#4858ad"/>
<path d="M82.3 142.3 L100.2 116.6 L102.3 117.2 L103.0 122.1 L107.1 127.7 L111.3 132.6 L113.4 138.1 L115.5 142.3 L119.0 145.1 L121.3 146.2 L87.8 146.2Z" fill="#4858ad"/>
<path d="M100.6 116.4 L102.6 116.0 L106.4 120.4 L107.1 118.6 L111.3 127.0 L116.9 131.9 L120.3 136.7 L121.7 141.6 L121.3 146.2 L121.3 146.2 L119.0 145.1 L115.5 142.3 L113.4 138.1 L111.3 132.6 L107.1 127.7 L103.0 122.1 L100.2 117.9Z" fill="#3f3a9c"/>
<path d="M121.0 87.3 L149.6 116.6 L148.2 118.2 L119.8 89.2Z" fill="#3f3a9c"/>
<path d="M240.5 129.0 L244.0 133.5 L249.0 136.0 L252.0 140.5 L257.0 143.5 L262.0 146.5 L266.0 149.5 L271.0 151.5 L275.0 155.0 L279.0 160.5 L283.0 163.2 L277.0 165.5 L269.3 164.0Z" fill="#4a66b8"/>
<path d="M214.2 203.5 L221.0 197.6 L228.0 196.3 L234.0 198.6 L239.0 203.6 L243.7 210.0 L246.2 212.5 L243.7 210.0 L240.0 206.5 L234.0 203.0 L228.0 201.8 L223.0 204.2 L219.4 211.5 L221.8 218.8 L219.4 226.0 L223.0 233.5 L224.3 241.6 L217.0 236.0 L213.5 228.0 L212.8 219.0 L214.5 209.5Z" fill="#4a66b8"/>
<path d="M121.0 87.3 L115.5 95.7 L113.4 99.2 L114.1 104.0 L111.3 106.8 L109.2 110.3 L109.9 114.5 L107.1 118.6 L111.3 127.0 L116.9 131.9 L120.3 136.7 L121.7 141.6 L121.3 146.2" fill="none" stroke="#15151f" stroke-width="1.30" stroke-linejoin="round"/>
<path d="M100.2 117.9 L103.0 122.1 L107.1 127.7 L111.3 132.6 L113.4 138.1 L115.5 142.3 L119.0 145.1 L121.3 146.2 L87.8 146.2" fill="none" stroke="#15151f" stroke-width="1.10" stroke-linejoin="round"/>
<path d="M119.8 89.2 L148.2 118.2" stroke="#15151f" stroke-width="1.10"/>
<path d="M113.4 129.1 H180" stroke="#15151f" stroke-width="0.9"/>
<path d="M164.6 199.6 L227.4 112.9 L269.3 164.0" fill="none" stroke="#15151f" stroke-width="0.7"/>
<path d="M214.2 203.5 L221.0 197.6 L228.0 196.3 L234.0 198.6 L239.0 203.6 L243.7 210.0" fill="none" stroke="#15151f" stroke-width="0.6"/>
<path d="M224.3 241.6 L217.0 236.0 L213.5 228.0 L212.8 219.0 L214.5 209.5 L214.2 203.5" fill="none" stroke="#15151f" stroke-width="0.6"/>
<path d="M217.5 213.2h7 M216.5 216.6h6.5" stroke="#111" stroke-width="1.6"/>
<circle cx="121.3" cy="101.2" r="0.9" fill="#15151f"/><circle cx="144.7" cy="121.4" r="0.9" fill="#15151f"/>
<circle cx="117.8" cy="141.6" r="1.3" fill="#fff"/>
<path d="M153.3 176.8 L159.0 172.5 L166.0 167.0 L172.0 162.6 L176.0 159.6 L180.0 156.6 L186.8 157.9 L190.6 163.5 L191.0 170.0 L186.0 174.5 L182.0 177.0 L174.0 183.0 L166.0 189.6 L161.5 187.6 L157.0 181.9Z" fill="#fff"/>
<path d="M182.0 177.0 L174.0 183.0 L166.0 189.6 L161.5 187.6 L157.0 181.9 L153.3 176.8 L159.0 172.5 L166.0 167.0 L172.0 162.6 L176.0 159.6 L180.0 156.6" fill="none" stroke="#15151f" stroke-width="1.70" stroke-linejoin="round"/>
<path d="M144.7 41.4 L146.3 43.7 L147.3 46.3 L150.5 48.4 L154.1 51.6 L155.2 53.7 L154.1 54.5 L150.5 53.7 L145.3 52.4 L141.1 50.3 L136.9 47.9 L133.8 46.6 L130.7 49.0 L126.5 52.6 L122.8 55.7 L121.5 58.3 L122.1 63.0 L124.4 66.2 L127.5 69.3 L130.1 72.4 L133.3 75.6 L135.9 78.7 L137.4 81.8 L139.5 85.0 L143.2 87.0 L147.3 88.6 L150.0 90.2 L151.0 94.3 L152.7 98.8 L155.9 102.4 L159.5 105.6 L160.6 108.2 L162.7 111.3 L165.8 115.5 L170.5 119.1 L175.2 122.3 L178.8 124.3 L183.0 125.9 L186.7 125.4 L189.3 123.3 L190.8 119.7 L193.3 116.4 L196.5 112.7 L200.7 109.6 L204.8 107.5 L210.0 106.7 L216.3 106.5 L221.5 107.0 L225.2 108.6 L226.7 111.2 L228.8 114.3 L230.9 117.4 L234.0 120.6 L237.2 122.7 L239.4 124.6 L241.5 127.7 L244.6 129.3 L248.3 128.3 L250.9 130.9 L252.4 135.0 L254.5 138.7 L257.1 139.7 L260.3 139.2 L263.4 137.7 L264.4 140.3 L266.5 142.3 L269.1 144.4 L271.7 146.0 L273.8 145.0 L275.9 142.9 L279.0 141.8 L282.2 140.8 L284.8 138.7 L287.6 137.5 L287.6 41.4Z" fill="#d2d3d5"/>
<path d="M144.7 41.4 L146.3 43.7 L147.3 46.3 L150.5 48.4 L154.1 51.6 L155.2 53.7 L154.1 54.5 L150.5 53.7 L145.3 52.4 L141.1 50.3 L136.9 47.9 L133.8 46.6 L130.7 49.0 L126.5 52.6 L122.8 55.7 L121.5 58.3 L122.1 63.0 L124.4 66.2 L127.5 69.3 L130.1 72.4 L133.3 75.6 L135.9 78.7 L137.4 81.8 L139.5 85.0 L143.2 87.0 L147.3 88.6 L150.0 90.2 L151.0 94.3 L152.7 98.8 L155.9 102.4 L159.5 105.6 L160.6 108.2 L162.7 111.3 L165.8 115.5 L170.5 119.1 L175.2 122.3 L178.8 124.3 L183.0 125.9 L186.7 125.4 L189.3 123.3 L190.8 119.7 L193.3 116.4 L196.5 112.7 L200.7 109.6 L204.8 107.5 L210.0 106.7 L216.3 106.5 L221.5 107.0 L225.2 108.6 L226.7 111.2 L228.8 114.3 L230.9 117.4 L234.0 120.6 L237.2 122.7 L239.4 124.6 L241.5 127.7 L244.6 129.3 L248.3 128.3 L250.9 130.9 L252.4 135.0 L254.5 138.7 L257.1 139.7 L260.3 139.2 L263.4 137.7 L264.4 140.3 L266.5 142.3 L269.1 144.4 L271.7 146.0 L273.8 145.0 L275.9 142.9 L279.0 141.8 L282.2 140.8 L284.8 138.7 L287.6 137.5" fill="none" stroke="#222" stroke-width="0.9" stroke-linejoin="round"/>
<path d="M80.6 41.4 L102.4 41.4 L103.0 44.0 L101.0 47.0 L98.0 49.0 L97.4 51.6 L95.0 53.6 L92.0 53.0 L90.4 50.4 L86.0 50.0 L80.6 49.0Z" fill="#d2d3d5" stroke="#222" stroke-width="0.9"/>
<path d="M268.7 168.2 L271.3 165.6 L276.5 164.0 L281.7 164.2 L287.6 166.6 L287.6 186.0 L283.8 183.8 L279.7 179.7 L275.5 175.5 L271.3 172.3 L269.2 170.3Z" fill="#d2d3d5" stroke="#222" stroke-width="0.9"/>
<path d="M277.0 155.7 L281.7 146.8 L285.9 147.8 L285.9 151.5 L281.7 157.2 L278.6 157.2Z" fill="#e6e6e9" stroke="#fff" stroke-width="1.2"/>
<path d="M277.0 155.7 L281.7 146.8 L285.9 147.8 L285.9 151.5 L281.7 157.2 L278.6 157.2Z" fill="none" stroke="#222" stroke-width="0.4"/>
<path d="M241.0 41.4 L238.0 50.0 L239.0 60.0 L237.0 68.0 L232.0 75.0 L225.0 81.0 L222.0 87.0 L224.0 96.0 L225.0 106.0 L227.0 111.0 L233.0 112.0 L244.0 110.0 L252.0 108.0 L258.0 104.0 L264.0 99.0 L272.0 93.0 L279.0 88.0 L287.6 83.0 L287.6 41.4Z" fill="#96989b"/>
<path d="M260.0 41.4 L261.0 46.0 L265.0 52.0 L262.0 56.0 L257.0 60.0 L254.0 66.0 L255.0 73.0 L257.0 75.0 L253.0 81.0 L248.0 88.0 L244.0 91.0 L239.0 95.0 L235.0 98.0 L231.0 104.0 L227.0 111.0" fill="none" stroke="#2a4ac4" stroke-width="1.35" stroke-linejoin="round"/>
<path d="M270.0 65.0 L266.0 66.0 L261.0 70.0 L257.0 75.0" fill="none" stroke="#2a4ac4" stroke-width="1.35" stroke-linejoin="round"/>
<path d="M175.8 163.5 L178.5 160.5 L186 160.2 L186.5 164.5 L184 167.8 L179.5 168.4 L176.2 166.5Z" fill="#fff"/>
<ellipse cx="182.0" cy="159.2" rx="5.6" ry="2.3" transform="rotate(-22 182.0 159.2)" fill="#d8d9db" stroke="#222" stroke-width="0.5"/>
<circle cx="232.5" cy="125.3" r="3.6" fill="#fcc32f" stroke="#222" stroke-width="1"/><circle cx="183.0" cy="151.6" r="3.7" fill="#62cf74" stroke="#1c1c2c" stroke-width="1"/>
</g>
<rect x="80.6" y="41.4" width="207.0" height="202.2" fill="none" stroke="#8a8a8a" stroke-width="1"/>
<path d="M80.6 50.0h2.2 M287.6 50.0h-2.2 M80.6 82.0h2.2 M287.6 82.0h-2.2 M80.6 113.9h2.2 M287.6 113.9h-2.2 M80.6 145.8h2.2 M287.6 145.8h-2.2 M80.6 177.8h2.2 M287.6 177.8h-2.2 M80.6 209.8h2.2 M287.6 209.8h-2.2 M80.6 241.7h2.2 M287.6 241.7h-2.2 M98.6 41.4v2.2 M98.6 243.6v-2.2 M130.6 41.4v2.2 M130.6 243.6v-2.2 M162.6 41.4v2.2 M162.6 243.6v-2.2 M194.6 41.4v2.2 M194.6 243.6v-2.2 M226.6 41.4v2.2 M226.6 243.6v-2.2 M258.6 41.4v2.2 M258.6 243.6v-2.2" stroke="#6a6a6a" stroke-width="0.7" fill="none"/>
<text x="85.0" y="72.6" font-size="20.3" text-anchor="start" fill="#111" stroke="#111" stroke-width="0.3" textLength="15.4" lengthAdjust="spacingAndGlyphs">C)</text>
<text x="85.6" y="234.8" font-size="16.0" text-anchor="start" fill="#111" stroke="#111" stroke-width="0.3" textLength="102.8" lengthAdjust="spacingAndGlyphs">NRMSLE = 99.7%</text>
</g>
<g transform="translate(207.0,218.7)">
<g clip-path="url(#pc)">
<path d="M82.3 142.3 L100.2 116.6 L102.3 117.2 L103.0 122.1 L107.1 127.7 L111.3 132.6 L113.4 138.1 L115.5 142.3 L119.0 145.1 L121.3 146.2 L121.3 146.2 L121.7 141.6 L120.3 136.7 L116.9 131.9 L111.3 127.0 L107.1 118.6 L107.1 118.6 L109.9 114.5 L109.2 110.3 L111.3 106.8 L114.1 104.0 L113.4 99.2 L115.5 95.7 L121.0 87.3 L149.6 116.6 L151.7 115.9 L153.7 118.6 L158.0 120.9 L164.0 119.9 L170.0 122.9 L176.0 126.0 L180.0 128.9 L184.0 128.2 L188.0 125.5 L191.0 121.5 L194.0 117.5 L198.0 114.2 L203.0 112.0 L207.0 113.2 L211.0 110.5 L216.0 111.3 L220.0 110.2 L224.0 112.0 L227.4 112.9 L230.5 119.5 L234.0 125.5 L239.5 130.0 L244.0 133.5 L249.0 136.0 L252.0 140.5 L257.0 143.5 L262.0 146.5 L266.0 149.5 L271.0 151.5 L275.0 155.0 L279.0 160.5 L283.0 163.2 L277.0 165.5 L269.3 164.0 L270.5 172.5 L267.0 182.0 L261.0 190.5 L252.3 204.0 L246.2 212.5 L243.7 210.0 L240.0 206.5 L234.0 203.0 L228.0 201.8 L223.0 204.2 L219.4 211.5 L221.8 218.8 L219.4 226.0 L223.0 233.5 L224.3 241.6Z" fill="#6bc272"/>
<path d="M227.4 112.9 L269.3 164.0 L270.5 172.5 L267.0 182.0 L261.0 190.5 L252.3 204.0 L246.2 212.5 L243.7 210.0 L240.0 206.5 L234.0 203.0 L228.0 201.8 L223.0 204.2 L219.4 211.5 L221.8 218.8 L219.4 226.0 L223.0 233.5 L224.3 241.6 L164.6 199.6Z" fill="#6bc272"/>
<path d="M107.1 118.6 L109.9 114.5 L109.2 110.3 L111.3 106.8 L114.1 104.0 L113.4 99.2 L115.5 95.7 L121.0 87.3 L149.6 116.6 L151.7 115.9 L153.7 118.6 L158.0 120.9 L164.0 119.9 L170.0 122.9 L176.0 126.0 L180.0 128.9 L180.0 129.1 L113.4 129.1 L111.3 127.0Z" fill="#3bb894"/>
<path d="M82.3 142.3 L100.2 116.6 L102.3 117.2 L103.0 122.1 L107.1 127.7 L111.3 132.6 L113.4 138.1 L115.5 142.3 L119.0 145.1 L121.3 146.2 L87.8 146.2Z" fill="#3bb894"/>
<path d="M100.6 116.4 L102.6 116.0 L106.4 120.4 L107.1 118.6 L111.3 127.0 L116.9 131.9 L120.3 136.7 L121.7 141.6 L121.3 146.2 L121.3 146.2 L119.0 145.1 L115.5 142.3 L113.4 138.1 L111.3 132.6 L107.1 127.7 L103.0 122.1 L100.2 117.9Z" fill="#1fb4d2"/>
<path d="M121.0 87.3 L149.6 116.6 L148.2 118.2 L119.8 89.2Z" fill="#1fb4d2"/>
<path d="M240.5 129.0 L244.0 133.5 L249.0 136.0 L252.0 140.5 L257.0 143.5 L262.0 146.5 L266.0 149.5 L271.0 151.5 L275.0 155.0 L279.0 160.5 L283.0 163.2 L277.0 165.5 L269.3 164.0Z" fill="#3bb894"/>
<path d="M214.2 203.5 L221.0 197.6 L228.0 196.3 L234.0 198.6 L239.0 203.6 L243.7 210.0 L246.2 212.5 L243.7 210.0 L240.0 206.5 L234.0 203.0 L228.0 201.8 L223.0 204.2 L219.4 211.5 L221.8 218.8 L219.4 226.0 L223.0 233.5 L224.3 241.6 L217.0 236.0 L213.5 228.0 L212.8 219.0 L214.5 209.5Z" fill="#3bb894"/>
<path d="M131.5 159.5 l3 -4 l2.5 4.5Z M165.5 147 l3 -2 l1.5 2.5Z" fill="#3bb894" stroke="#1c2b2b" stroke-width="0.4"/>
<path d="M134.1 178.4 L150.9 166.6 L153.5 168.8 L158.4 168.0 L167.8 159.1 L174.0 155.5 L180.8 153.5 L188.3 156.5 L190.9 164.7 L164.6 199.6Z" fill="#3bb894"/>
<path d="M134.1 178.4 L150.9 166.6 L153.5 168.8 L158.4 168.0 L167.8 159.1 L174.0 155.5 L180.8 153.5" fill="none" stroke="#1c2b2b" stroke-width="0.6"/>
<path d="M121.0 87.3 L115.5 95.7 L113.4 99.2 L114.1 104.0 L111.3 106.8 L109.2 110.3 L109.9 114.5 L107.1 118.6 L111.3 127.0 L116.9 131.9 L120.3 136.7 L121.7 141.6 L121.3 146.2" fill="none" stroke="#15151f" stroke-width="0.91" stroke-linejoin="round"/>
<path d="M100.2 117.9 L103.0 122.1 L107.1 127.7 L111.3 132.6 L113.4 138.1 L115.5 142.3 L119.0 145.1 L121.3 146.2 L87.8 146.2" fill="none" stroke="#15151f" stroke-width="0.77" stroke-linejoin="round"/>
<path d="M119.8 89.2 L148.2 118.2" stroke="#15151f" stroke-width="0.77"/>
<path d="M113.4 129.1 H180" stroke="#15151f" stroke-width="0.9"/>
<path d="M164.6 199.6 L227.4 112.9 L269.3 164.0" fill="none" stroke="#15151f" stroke-width="0.7"/>
<path d="M214.2 203.5 L221.0 197.6 L228.0 196.3 L234.0 198.6 L239.0 203.6 L243.7 210.0" fill="none" stroke="#15151f" stroke-width="0.6"/>
<path d="M224.3 241.6 L217.0 236.0 L213.5 228.0 L212.8 219.0 L214.5 209.5 L214.2 203.5" fill="none" stroke="#15151f" stroke-width="0.6"/>
<path d="M217.5 213.2h7 M216.5 216.6h6.5" stroke="#111" stroke-width="1.6"/>
<circle cx="121.3" cy="101.2" r="0.9" fill="#15151f"/><circle cx="144.7" cy="121.4" r="0.9" fill="#15151f"/>
<circle cx="117.8" cy="141.6" r="1.3" fill="#fff"/>
<path d="M153.3 176.8 L159.0 172.5 L166.0 167.0 L172.0 162.6 L176.0 159.6 L180.0 156.6 L186.8 157.9 L190.6 163.5 L191.0 170.0 L186.0 174.5 L182.0 177.0 L174.0 183.0 L166.0 189.6 L161.5 187.6 L157.0 181.9Z" fill="#fff"/>
<path d="M182.0 177.0 L174.0 183.0 L166.0 189.6 L161.5 187.6 L157.0 181.9 L153.3 176.8 L159.0 172.5 L166.0 167.0 L172.0 162.6 L176.0 159.6 L180.0 156.6" fill="none" stroke="#15151f" stroke-width="1.19" stroke-linejoin="round"/>
<path d="M144.7 41.4 L146.3 43.7 L147.3 46.3 L150.5 48.4 L154.1 51.6 L155.2 53.7 L154.1 54.5 L150.5 53.7 L145.3 52.4 L141.1 50.3 L136.9 47.9 L133.8 46.6 L130.7 49.0 L126.5 52.6 L122.8 55.7 L121.5 58.3 L122.1 63.0 L124.4 66.2 L127.5 69.3 L130.1 72.4 L133.3 75.6 L135.9 78.7 L137.4 81.8 L139.5 85.0 L143.2 87.0 L147.3 88.6 L150.0 90.2 L151.0 94.3 L152.7 98.8 L155.9 102.4 L159.5 105.6 L160.6 108.2 L162.7 111.3 L165.8 115.5 L170.5 119.1 L175.2 122.3 L178.8 124.3 L183.0 125.9 L186.7 125.4 L189.3 123.3 L190.8 119.7 L193.3 116.4 L196.5 112.7 L200.7 109.6 L204.8 107.5 L210.0 106.7 L216.3 106.5 L221.5 107.0 L225.2 108.6 L226.7 111.2 L228.8 114.3 L230.9 117.4 L234.0 120.6 L237.2 122.7 L239.4 124.6 L241.5 127.7 L244.6 129.3 L248.3 128.3 L250.9 130.9 L252.4 135.0 L254.5 138.7 L257.1 139.7 L260.3 139.2 L263.4 137.7 L264.4 140.3 L266.5 142.3 L269.1 144.4 L271.7 146.0 L273.8 145.0 L275.9 142.9 L279.0 141.8 L282.2 140.8 L284.8 138.7 L287.6 137.5 L287.6 41.4Z" fill="#d2d3d5"/>
<path d="M144.7 41.4 L146.3 43.7 L147.3 46.3 L150.5 48.4 L154.1 51.6 L155.2 53.7 L154.1 54.5 L150.5 53.7 L145.3 52.4 L141.1 50.3 L136.9 47.9 L133.8 46.6 L130.7 49.0 L126.5 52.6 L122.8 55.7 L121.5 58.3 L122.1 63.0 L124.4 66.2 L127.5 69.3 L130.1 72.4 L133.3 75.6 L135.9 78.7 L137.4 81.8 L139.5 85.0 L143.2 87.0 L147.3 88.6 L150.0 90.2 L151.0 94.3 L152.7 98.8 L155.9 102.4 L159.5 105.6 L160.6 108.2 L162.7 111.3 L165.8 115.5 L170.5 119.1 L175.2 122.3 L178.8 124.3 L183.0 125.9 L186.7 125.4 L189.3 123.3 L190.8 119.7 L193.3 116.4 L196.5 112.7 L200.7 109.6 L204.8 107.5 L210.0 106.7 L216.3 106.5 L221.5 107.0 L225.2 108.6 L226.7 111.2 L228.8 114.3 L230.9 117.4 L234.0 120.6 L237.2 122.7 L239.4 124.6 L241.5 127.7 L244.6 129.3 L248.3 128.3 L250.9 130.9 L252.4 135.0 L254.5 138.7 L257.1 139.7 L260.3 139.2 L263.4 137.7 L264.4 140.3 L266.5 142.3 L269.1 144.4 L271.7 146.0 L273.8 145.0 L275.9 142.9 L279.0 141.8 L282.2 140.8 L284.8 138.7 L287.6 137.5" fill="none" stroke="#222" stroke-width="0.9" stroke-linejoin="round"/>
<path d="M80.6 41.4 L102.4 41.4 L103.0 44.0 L101.0 47.0 L98.0 49.0 L97.4 51.6 L95.0 53.6 L92.0 53.0 L90.4 50.4 L86.0 50.0 L80.6 49.0Z" fill="#d2d3d5" stroke="#222" stroke-width="0.9"/>
<path d="M268.7 168.2 L271.3 165.6 L276.5 164.0 L281.7 164.2 L287.6 166.6 L287.6 186.0 L283.8 183.8 L279.7 179.7 L275.5 175.5 L271.3 172.3 L269.2 170.3Z" fill="#d2d3d5" stroke="#222" stroke-width="0.9"/>
<path d="M277.0 155.7 L281.7 146.8 L285.9 147.8 L285.9 151.5 L281.7 157.2 L278.6 157.2Z" fill="#e6e6e9" stroke="#fff" stroke-width="1.2"/>
<path d="M277.0 155.7 L281.7 146.8 L285.9 147.8 L285.9 151.5 L281.7 157.2 L278.6 157.2Z" fill="none" stroke="#222" stroke-width="0.4"/>
<path d="M241.0 41.4 L238.0 50.0 L239.0 60.0 L237.0 68.0 L232.0 75.0 L225.0 81.0 L222.0 87.0 L224.0 96.0 L225.0 106.0 L227.0 111.0 L233.0 112.0 L244.0 110.0 L252.0 108.0 L258.0 104.0 L264.0 99.0 L272.0 93.0 L279.0 88.0 L287.6 83.0 L287.6 41.4Z" fill="#96989b"/>
<path d="M260.0 41.4 L261.0 46.0 L265.0 52.0 L262.0 56.0 L257.0 60.0 L254.0 66.0 L255.0 73.0 L257.0 75.0 L253.0 81.0 L248.0 88.0 L244.0 91.0 L239.0 95.0 L235.0 98.0 L231.0 104.0 L227.0 111.0" fill="none" stroke="#2a4ac4" stroke-width="1.35" stroke-linejoin="round"/>
<path d="M270.0 65.0 L266.0 66.0 L261.0 70.0 L257.0 75.0" fill="none" stroke="#2a4ac4" stroke-width="1.35" stroke-linejoin="round"/>
<path d="M175.8 163.5 L178.5 160.5 L186 160.2 L186.5 164.5 L184 167.8 L179.5 168.4 L176.2 166.5Z" fill="#fff"/>
<ellipse cx="182.0" cy="159.2" rx="5.6" ry="2.3" transform="rotate(-22 182.0 159.2)" fill="#d8d9db" stroke="#222" stroke-width="0.5"/>
<circle cx="232.5" cy="125.3" r="3.6" fill="#fcc32f" stroke="#222" stroke-width="1"/><circle cx="183.0" cy="151.6" r="3.7" fill="#6bc272" stroke="#1c1c2c" stroke-width="1"/>
</g>
<rect x="80.6" y="41.4" width="207.0" height="202.2" fill="none" stroke="#8a8a8a" stroke-width="1"/>
<path d="M80.6 50.0h2.2 M287.6 50.0h-2.2 M80.6 82.0h2.2 M287.6 82.0h-2.2 M80.6 113.9h2.2 M287.6 113.9h-2.2 M80.6 145.8h2.2 M287.6 145.8h-2.2 M80.6 177.8h2.2 M287.6 177.8h-2.2 M80.6 209.8h2.2 M287.6 209.8h-2.2 M80.6 241.7h2.2 M287.6 241.7h-2.2 M98.6 41.4v2.2 M98.6 243.6v-2.2 M130.6 41.4v2.2 M130.6 243.6v-2.2 M162.6 41.4v2.2 M162.6 243.6v-2.2 M194.6 41.4v2.2 M194.6 243.6v-2.2 M226.6 41.4v2.2 M226.6 243.6v-2.2 M258.6 41.4v2.2 M258.6 243.6v-2.2" stroke="#6a6a6a" stroke-width="0.7" fill="none"/>
<text x="85.0" y="72.6" font-size="20.3" text-anchor="start" fill="#111" stroke="#111" stroke-width="0.3" textLength="15.4" lengthAdjust="spacingAndGlyphs">D)</text>
<text x="85.6" y="234.8" font-size="16.0" text-anchor="start" fill="#111" stroke="#111" stroke-width="0.3" textLength="102.8" lengthAdjust="spacingAndGlyphs">NRMSLE = 53.5%</text>
</g>
<g transform="translate(0.0,436.8)">
<g clip-path="url(#pc)">
<g clip-path="url(#dom)"><clipPath id="efclip13"><path d="M83.4 144.1 L149.1 51.1 L290.1 150.0 L224.4 243.0Z"/></clipPath><g clip-path="url(#efclip13)">
<path d="M81.0 142.4 L146.7 49.4 L290.1 150.0 L224.4 243.0Z" fill="#433c98"/>
<ellipse cx="231.8" cy="113.5" rx="163.5" ry="146.0" fill="#45449e" stroke="#1d2a3a" stroke-width="0.6"/>
<ellipse cx="231.8" cy="113.5" rx="154.6" ry="138.0" fill="#474ea6" stroke="#1d2a3a" stroke-width="0.6"/>
<ellipse cx="231.8" cy="113.5" rx="145.6" ry="130.0" fill="#4959ae" stroke="#1d2a3a" stroke-width="0.6"/>
<ellipse cx="231.8" cy="113.5" rx="136.6" ry="122.0" fill="#4a64b6" stroke="#1d2a3a" stroke-width="0.6"/>
<ellipse cx="231.8" cy="113.5" rx="127.5" ry="113.8" fill="#4a6fbe" stroke="#1d2a3a" stroke-width="0.6"/>
<ellipse cx="231.8" cy="113.5" rx="118.6" ry="105.9" fill="#477bc8" stroke="#1d2a3a" stroke-width="0.6"/>
<ellipse cx="231.8" cy="113.5" rx="108.5" ry="96.9" fill="#4087d2" stroke="#1d2a3a" stroke-width="0.6"/>
<ellipse cx="231.8" cy="113.5" rx="99.0" ry="88.4" fill="#3295dc" stroke="#1d2a3a" stroke-width="0.6"/>
<ellipse cx="231.8" cy="113.5" rx="88.5" ry="79.0" fill="#1ea5e0" stroke="#1d2a3a" stroke-width="0.6"/>
<ellipse cx="231.8" cy="113.5" rx="77.2" ry="68.9" fill="#1aadd2" stroke="#1d2a3a" stroke-width="0.6"/>
<ellipse cx="231.8" cy="113.5" rx="63.4" ry="56.6" fill="#1fb4bd" stroke="#1d2a3a" stroke-width="0.6"/>
<ellipse cx="231.8" cy="113.5" rx="49.6" ry="44.3" fill="#2db7a4" stroke="#1d2a3a" stroke-width="0.6"/>
<ellipse cx="231.8" cy="113.5" rx="29.7" ry="26.5" fill="#46ba8b" stroke="#1d2a3a" stroke-width="0.6"/>
</g>
<ellipse cx="207.0" cy="110.3" rx="2.2" ry="1.4" transform="rotate(-20 207 110.3)" fill="#fff"/></g>
<path d="M144.7 41.4 L146.3 43.7 L147.3 46.3 L150.5 48.4 L154.1 51.6 L155.2 53.7 L154.1 54.5 L150.5 53.7 L145.3 52.4 L141.1 50.3 L136.9 47.9 L133.8 46.6 L130.7 49.0 L126.5 52.6 L122.8 55.7 L121.5 58.3 L122.1 63.0 L124.4 66.2 L127.5 69.3 L130.1 72.4 L133.3 75.6 L135.9 78.7 L137.4 81.8 L139.5 85.0 L143.2 87.0 L147.3 88.6 L150.0 90.2 L151.0 94.3 L152.7 98.8 L155.9 102.4 L159.5 105.6 L160.6 108.2 L162.7 111.3 L165.8 115.5 L170.5 119.1 L175.2 122.3 L178.8 124.3 L183.0 125.9 L186.7 125.4 L189.3 123.3 L190.8 119.7 L193.3 116.4 L196.5 112.7 L200.7 109.6 L204.8 107.5 L210.0 106.7 L216.3 106.5 L221.5 107.0 L225.2 108.6 L226.7 111.2 L228.8 114.3 L230.9 117.4 L234.0 120.6 L237.2 122.7 L239.4 124.6 L241.5 127.7 L244.6 129.3 L248.3 128.3 L250.9 130.9 L252.4 135.0 L254.5 138.7 L257.1 139.7 L260.3 139.2 L263.4 137.7 L264.4 140.3 L266.5 142.3 L269.1 144.4 L271.7 146.0 L273.8 145.0 L275.9 142.9 L279.0 141.8 L282.2 140.8 L284.8 138.7 L287.6 137.5 L287.6 41.4Z" fill="#d2d3d5"/>
<path d="M144.7 41.4 L146.3 43.7 L147.3 46.3 L150.5 48.4 L154.1 51.6 L155.2 53.7 L154.1 54.5 L150.5 53.7 L145.3 52.4 L141.1 50.3 L136.9 47.9 L133.8 46.6 L130.7 49.0 L126.5 52.6 L122.8 55.7 L121.5 58.3 L122.1 63.0 L124.4 66.2 L127.5 69.3 L130.1 72.4 L133.3 75.6 L135.9 78.7 L137.4 81.8 L139.5 85.0 L143.2 87.0 L147.3 88.6 L150.0 90.2 L151.0 94.3 L152.7 98.8 L155.9 102.4 L159.5 105.6 L160.6 108.2 L162.7 111.3 L165.8 115.5 L170.5 119.1 L175.2 122.3 L178.8 124.3 L183.0 125.9 L186.7 125.4 L189.3 123.3 L190.8 119.7 L193.3 116.4 L196.5 112.7 L200.7 109.6 L204.8 107.5 L210.0 106.7 L216.3 106.5 L221.5 107.0 L225.2 108.6 L226.7 111.2 L228.8 114.3 L230.9 117.4 L234.0 120.6 L237.2 122.7 L239.4 124.6 L241.5 127.7 L244.6 129.3 L248.3 128.3 L250.9 130.9 L252.4 135.0 L254.5 138.7 L257.1 139.7 L260.3 139.2 L263.4 137.7 L264.4 140.3 L266.5 142.3 L269.1 144.4 L271.7 146.0 L273.8 145.0 L275.9 142.9 L279.0 141.8 L282.2 140.8 L284.8 138.7 L287.6 137.5" fill="none" stroke="#222" stroke-width="0.9" stroke-linejoin="round"/>
<path d="M80.6 41.4 L102.4 41.4 L103.0 44.0 L101.0 47.0 L98.0 49.0 L97.4 51.6 L95.0 53.6 L92.0 53.0 L90.4 50.4 L86.0 50.0 L80.6 49.0Z" fill="#d2d3d5" stroke="#222" stroke-width="0.9"/>
<path d="M268.7 168.2 L271.3 165.6 L276.5 164.0 L281.7 164.2 L287.6 166.6 L287.6 186.0 L283.8 183.8 L279.7 179.7 L275.5 175.5 L271.3 172.3 L269.2 170.3Z" fill="#d2d3d5" stroke="#222" stroke-width="0.9"/>
<path d="M277.0 155.7 L281.7 146.8 L285.9 147.8 L285.9 151.5 L281.7 157.2 L278.6 157.2Z" fill="#e6e6e9" stroke="#fff" stroke-width="1.2"/>
<path d="M277.0 155.7 L281.7 146.8 L285.9 147.8 L285.9 151.5 L281.7 157.2 L278.6 157.2Z" fill="none" stroke="#222" stroke-width="0.4"/>
<path d="M241.0 41.4 L238.0 50.0 L239.0 60.0 L237.0 68.0 L232.0 75.0 L225.0 81.0 L222.0 87.0 L224.0 96.0 L225.0 106.0 L227.0 111.0 L233.0 112.0 L244.0 110.0 L252.0 108.0 L258.0 104.0 L264.0 99.0 L272.0 93.0 L279.0 88.0 L287.6 83.0 L287.6 41.4Z" fill="#96989b"/>
<path d="M260.0 41.4 L261.0 46.0 L265.0 52.0 L262.0 56.0 L257.0 60.0 L254.0 66.0 L255.0 73.0 L257.0 75.0 L253.0 81.0 L248.0 88.0 L244.0 91.0 L239.0 95.0 L235.0 98.0 L231.0 104.0 L227.0 111.0" fill="none" stroke="#2a4ac4" stroke-width="1.35" stroke-linejoin="round"/>
<path d="M270.0 65.0 L266.0 66.0 L261.0 70.0 L257.0 75.0" fill="none" stroke="#2a4ac4" stroke-width="1.35" stroke-linejoin="round"/>
<ellipse cx="182.0" cy="159.2" rx="5.6" ry="2.3" transform="rotate(-22 182.0 159.2)" fill="#d8d9db" stroke="#222" stroke-width="0.5"/>
<circle cx="232.5" cy="125.3" r="3.6" fill="#fcc32f" stroke="#222" stroke-width="1"/><circle cx="183.0" cy="151.6" r="3.7" fill="#6ccb7c" stroke="#1c1c2c" stroke-width="1"/>
</g>
<rect x="80.6" y="41.4" width="207.0" height="202.2" fill="none" stroke="#8a8a8a" stroke-width="1"/>
<path d="M80.6 50.0h2.2 M287.6 50.0h-2.2 M80.6 82.0h2.2 M287.6 82.0h-2.2 M80.6 113.9h2.2 M287.6 113.9h-2.2 M80.6 145.8h2.2 M287.6 145.8h-2.2 M80.6 177.8h2.2 M287.6 177.8h-2.2 M80.6 209.8h2.2 M287.6 209.8h-2.2 M80.6 241.7h2.2 M287.6 241.7h-2.2 M98.6 41.4v2.2 M98.6 243.6v-2.2 M130.6 41.4v2.2 M130.6 243.6v-2.2 M162.6 41.4v2.2 M162.6 243.6v-2.2 M194.6 41.4v2.2 M194.6 243.6v-2.2 M226.6 41.4v2.2 M226.6 243.6v-2.2 M258.6 41.4v2.2 M258.6 243.6v-2.2" stroke="#6a6a6a" stroke-width="0.7" fill="none"/>
<text x="85.0" y="72.6" font-size="20.3" text-anchor="start" fill="#111" stroke="#111" stroke-width="0.3" textLength="15.4" lengthAdjust="spacingAndGlyphs">E)</text>
<text x="85.6" y="234.8" font-size="16.0" text-anchor="start" fill="#111" stroke="#111" stroke-width="0.3" textLength="102.8" lengthAdjust="spacingAndGlyphs">NRMSLE = 88.8%</text>
</g>
<g transform="translate(207.0,436.8)">
<g clip-path="url(#pc)">
<g clip-path="url(#dom)"><clipPath id="efclip5"><path d="M83.4 144.1 L149.1 51.1 L290.1 150.0 L224.4 243.0Z"/></clipPath><g clip-path="url(#efclip5)">
<path d="M81.0 142.4 L146.7 49.4 L290.1 150.0 L224.4 243.0Z" fill="#86c358"/>
<ellipse cx="231.8" cy="113.5" rx="142.0" ry="142.0" fill="#bdb840" stroke="#3a3320" stroke-width="0.6"/>
<ellipse cx="231.8" cy="113.5" rx="116.0" ry="116.0" fill="#eab339" stroke="#3a3320" stroke-width="0.6"/>
<ellipse cx="231.8" cy="113.5" rx="96.0" ry="96.0" fill="#fdba3a" stroke="#3a3320" stroke-width="0.6"/>
<ellipse cx="231.8" cy="113.5" rx="70.5" ry="70.5" fill="#fdd02f" stroke="#3a3320" stroke-width="0.6"/>
<ellipse cx="231.8" cy="113.5" rx="24.5" ry="24.5" fill="#f3ea2a" stroke="#3a3320" stroke-width="0.6"/>
</g>
<ellipse cx="207.0" cy="110.3" rx="2.2" ry="1.4" transform="rotate(-20 207 110.3)" fill="#fff"/></g>
<path d="M144.7 41.4 L146.3 43.7 L147.3 46.3 L150.5 48.4 L154.1 51.6 L155.2 53.7 L154.1 54.5 L150.5 53.7 L145.3 52.4 L141.1 50.3 L136.9 47.9 L133.8 46.6 L130.7 49.0 L126.5 52.6 L122.8 55.7 L121.5 58.3 L122.1 63.0 L124.4 66.2 L127.5 69.3 L130.1 72.4 L133.3 75.6 L135.9 78.7 L137.4 81.8 L139.5 85.0 L143.2 87.0 L147.3 88.6 L150.0 90.2 L151.0 94.3 L152.7 98.8 L155.9 102.4 L159.5 105.6 L160.6 108.2 L162.7 111.3 L165.8 115.5 L170.5 119.1 L175.2 122.3 L178.8 124.3 L183.0 125.9 L186.7 125.4 L189.3 123.3 L190.8 119.7 L193.3 116.4 L196.5 112.7 L200.7 109.6 L204.8 107.5 L210.0 106.7 L216.3 106.5 L221.5 107.0 L225.2 108.6 L226.7 111.2 L228.8 114.3 L230.9 117.4 L234.0 120.6 L237.2 122.7 L239.4 124.6 L241.5 127.7 L244.6 129.3 L248.3 128.3 L250.9 130.9 L252.4 135.0 L254.5 138.7 L257.1 139.7 L260.3 139.2 L263.4 137.7 L264.4 140.3 L266.5 142.3 L269.1 144.4 L271.7 146.0 L273.8 145.0 L275.9 142.9 L279.0 141.8 L282.2 140.8 L284.8 138.7 L287.6 137.5 L287.6 41.4Z" fill="#d2d3d5"/>
<path d="M144.7 41.4 L146.3 43.7 L147.3 46.3 L150.5 48.4 L154.1 51.6 L155.2 53.7 L154.1 54.5 L150.5 53.7 L145.3 52.4 L141.1 50.3 L136.9 47.9 L133.8 46.6 L130.7 49.0 L126.5 52.6 L122.8 55.7 L121.5 58.3 L122.1 63.0 L124.4 66.2 L127.5 69.3 L130.1 72.4 L133.3 75.6 L135.9 78.7 L137.4 81.8 L139.5 85.0 L143.2 87.0 L147.3 88.6 L150.0 90.2 L151.0 94.3 L152.7 98.8 L155.9 102.4 L159.5 105.6 L160.6 108.2 L162.7 111.3 L165.8 115.5 L170.5 119.1 L175.2 122.3 L178.8 124.3 L183.0 125.9 L186.7 125.4 L189.3 123.3 L190.8 119.7 L193.3 116.4 L196.5 112.7 L200.7 109.6 L204.8 107.5 L210.0 106.7 L216.3 106.5 L221.5 107.0 L225.2 108.6 L226.7 111.2 L228.8 114.3 L230.9 117.4 L234.0 120.6 L237.2 122.7 L239.4 124.6 L241.5 127.7 L244.6 129.3 L248.3 128.3 L250.9 130.9 L252.4 135.0 L254.5 138.7 L257.1 139.7 L260.3 139.2 L263.4 137.7 L264.4 140.3 L266.5 142.3 L269.1 144.4 L271.7 146.0 L273.8 145.0 L275.9 142.9 L279.0 141.8 L282.2 140.8 L284.8 138.7 L287.6 137.5" fill="none" stroke="#222" stroke-width="0.9" stroke-linejoin="round"/>
<path d="M80.6 41.4 L102.4 41.4 L103.0 44.0 L101.0 47.0 L98.0 49.0 L97.4 51.6 L95.0 53.6 L92.0 53.0 L90.4 50.4 L86.0 50.0 L80.6 49.0Z" fill="#d2d3d5" stroke="#222" stroke-width="0.9"/>
<path d="M268.7 168.2 L271.3 165.6 L276.5 164.0 L281.7 164.2 L287.6 166.6 L287.6 186.0 L283.8 183.8 L279.7 179.7 L275.5 175.5 L271.3 172.3 L269.2 170.3Z" fill="#d2d3d5" stroke="#222" stroke-width="0.9"/>
<path d="M277.0 155.7 L281.7 146.8 L285.9 147.8 L285.9 151.5 L281.7 157.2 L278.6 157.2Z" fill="#e6e6e9" stroke="#fff" stroke-width="1.2"/>
<path d="M277.0 155.7 L281.7 146.8 L285.9 147.8 L285.9 151.5 L281.7 157.2 L278.6 157.2Z" fill="none" stroke="#222" stroke-width="0.4"/>
<path d="M241.0 41.4 L238.0 50.0 L239.0 60.0 L237.0 68.0 L232.0 75.0 L225.0 81.0 L222.0 87.0 L224.0 96.0 L225.0 106.0 L227.0 111.0 L233.0 112.0 L244.0 110.0 L252.0 108.0 L258.0 104.0 L264.0 99.0 L272.0 93.0 L279.0 88.0 L287.6 83.0 L287.6 41.4Z" fill="#96989b"/>
<path d="M260.0 41.4 L261.0 46.0 L265.0 52.0 L262.0 56.0 L257.0 60.0 L254.0 66.0 L255.0 73.0 L257.0 75.0 L253.0 81.0 L248.0 88.0 L244.0 91.0 L239.0 95.0 L235.0 98.0 L231.0 104.0 L227.0 111.0" fill="none" stroke="#2a4ac4" stroke-width="1.35" stroke-linejoin="round"/>
<path d="M270.0 65.0 L266.0 66.0 L261.0 70.0 L257.0 75.0" fill="none" stroke="#2a4ac4" stroke-width="1.35" stroke-linejoin="round"/>
<ellipse cx="182.0" cy="159.2" rx="5.6" ry="2.3" transform="rotate(-22 182.0 159.2)" fill="#d8d9db" stroke="#222" stroke-width="0.5"/>
<circle cx="232.5" cy="125.3" r="3.6" fill="#fcc32f" stroke="#222" stroke-width="1"/><circle cx="183.0" cy="151.6" r="3.7" fill="#5cc98d" stroke="#1c1c2c" stroke-width="1"/>
</g>
<rect x="80.6" y="41.4" width="207.0" height="202.2" fill="none" stroke="#8a8a8a" stroke-width="1"/>
<path d="M80.6 50.0h2.2 M287.6 50.0h-2.2 M80.6 82.0h2.2 M287.6 82.0h-2.2 M80.6 113.9h2.2 M287.6 113.9h-2.2 M80.6 145.8h2.2 M287.6 145.8h-2.2 M80.6 177.8h2.2 M287.6 177.8h-2.2 M80.6 209.8h2.2 M287.6 209.8h-2.2 M80.6 241.7h2.2 M287.6 241.7h-2.2 M98.6 41.4v2.2 M98.6 243.6v-2.2 M130.6 41.4v2.2 M130.6 243.6v-2.2 M162.6 41.4v2.2 M162.6 243.6v-2.2 M194.6 41.4v2.2 M194.6 243.6v-2.2 M226.6 41.4v2.2 M226.6 243.6v-2.2 M258.6 41.4v2.2 M258.6 243.6v-2.2" stroke="#6a6a6a" stroke-width="0.7" fill="none"/>
<text x="85.0" y="72.6" font-size="20.3" text-anchor="start" fill="#111" stroke="#111" stroke-width="0.3" textLength="15.4" lengthAdjust="spacingAndGlyphs">F)</text>
<text x="83.7" y="234.8" font-size="16.0" text-anchor="start" fill="#111" stroke="#111" stroke-width="0.3" textLength="110.5" lengthAdjust="spacingAndGlyphs">NRMSLE = 421.9%</text>
</g>
<text x="77.6" y="54.6" font-size="13.5" text-anchor="end" fill="#3c3c3c" stroke="#3c3c3c" stroke-width="0.3" textLength="41.6" lengthAdjust="spacingAndGlyphs">9105000</text>
<text x="77.6" y="86.5" font-size="13.5" text-anchor="end" fill="#3c3c3c" stroke="#3c3c3c" stroke-width="0.3" textLength="41.6" lengthAdjust="spacingAndGlyphs">9104000</text>
<text x="77.6" y="118.5" font-size="13.5" text-anchor="end" fill="#3c3c3c" stroke="#3c3c3c" stroke-width="0.3" textLength="41.6" lengthAdjust="spacingAndGlyphs">9103000</text>
<text x="77.6" y="150.4" font-size="13.5" text-anchor="end" fill="#3c3c3c" stroke="#3c3c3c" stroke-width="0.3" textLength="41.6" lengthAdjust="spacingAndGlyphs">9102000</text>
<text x="77.6" y="182.4" font-size="13.5" text-anchor="end" fill="#3c3c3c" stroke="#3c3c3c" stroke-width="0.3" textLength="41.6" lengthAdjust="spacingAndGlyphs">9101000</text>
<text x="77.6" y="214.3" font-size="13.5" text-anchor="end" fill="#3c3c3c" stroke="#3c3c3c" stroke-width="0.3" textLength="41.6" lengthAdjust="spacingAndGlyphs">9100000</text>
<text x="77.6" y="246.3" font-size="13.5" text-anchor="end" fill="#3c3c3c" stroke="#3c3c3c" stroke-width="0.3" textLength="41.6" lengthAdjust="spacingAndGlyphs">9099000</text>
<text x="77.6" y="273.3" font-size="13.5" text-anchor="end" fill="#3c3c3c" stroke="#3c3c3c" stroke-width="0.3" textLength="41.6" lengthAdjust="spacingAndGlyphs">9105000</text>
<text x="77.6" y="305.2" font-size="13.5" text-anchor="end" fill="#3c3c3c" stroke="#3c3c3c" stroke-width="0.3" textLength="41.6" lengthAdjust="spacingAndGlyphs">9104000</text>
<text x="77.6" y="337.2" font-size="13.5" text-anchor="end" fill="#3c3c3c" stroke="#3c3c3c" stroke-width="0.3" textLength="41.6" lengthAdjust="spacingAndGlyphs">9103000</text>
<text x="77.6" y="369.1" font-size="13.5" text-anchor="end" fill="#3c3c3c" stroke="#3c3c3c" stroke-width="0.3" textLength="41.6" lengthAdjust="spacingAndGlyphs">9102000</text>
<text x="77.6" y="401.1" font-size="13.5" text-anchor="end" fill="#3c3c3c" stroke="#3c3c3c" stroke-width="0.3" textLength="41.6" lengthAdjust="spacingAndGlyphs">9101000</text>
<text x="77.6" y="433.1" font-size="13.5" text-anchor="end" fill="#3c3c3c" stroke="#3c3c3c" stroke-width="0.3" textLength="41.6" lengthAdjust="spacingAndGlyphs">9100000</text>
<text x="77.6" y="465.0" font-size="13.5" text-anchor="end" fill="#3c3c3c" stroke="#3c3c3c" stroke-width="0.3" textLength="41.6" lengthAdjust="spacingAndGlyphs">9099000</text>
<text x="77.6" y="491.4" font-size="13.5" text-anchor="end" fill="#3c3c3c" stroke="#3c3c3c" stroke-width="0.3" textLength="41.6" lengthAdjust="spacingAndGlyphs">9105000</text>
<text x="77.6" y="523.4" font-size="13.5" text-anchor="end" fill="#3c3c3c" stroke="#3c3c3c" stroke-width="0.3" textLength="41.6" lengthAdjust="spacingAndGlyphs">9104000</text>
<text x="77.6" y="555.3" font-size="13.5" text-anchor="end" fill="#3c3c3c" stroke="#3c3c3c" stroke-width="0.3" textLength="41.6" lengthAdjust="spacingAndGlyphs">9103000</text>
<text x="77.6" y="587.2" font-size="13.5" text-anchor="end" fill="#3c3c3c" stroke="#3c3c3c" stroke-width="0.3" textLength="41.6" lengthAdjust="spacingAndGlyphs">9102000</text>
<text x="77.6" y="619.2" font-size="13.5" text-anchor="end" fill="#3c3c3c" stroke="#3c3c3c" stroke-width="0.3" textLength="41.6" lengthAdjust="spacingAndGlyphs">9101000</text>
<text x="77.6" y="651.1" font-size="13.5" text-anchor="end" fill="#3c3c3c" stroke="#3c3c3c" stroke-width="0.3" textLength="41.6" lengthAdjust="spacingAndGlyphs">9100000</text>
<text x="77.6" y="683.1" font-size="13.5" text-anchor="end" fill="#3c3c3c" stroke="#3c3c3c" stroke-width="0.3" textLength="41.6" lengthAdjust="spacingAndGlyphs">9099000</text>
<text transform="translate(94.4,684.4) rotate(90)" font-size="14.2" fill="#3c3c3c" stroke="#3c3c3c" stroke-width="0.3" textLength="35.6" lengthAdjust="spacingAndGlyphs">508000</text>
<text transform="translate(126.4,684.4) rotate(90)" font-size="14.2" fill="#3c3c3c" stroke="#3c3c3c" stroke-width="0.3" textLength="35.6" lengthAdjust="spacingAndGlyphs">509000</text>
<text transform="translate(158.4,684.4) rotate(90)" font-size="14.2" fill="#3c3c3c" stroke="#3c3c3c" stroke-width="0.3" textLength="35.6" lengthAdjust="spacingAndGlyphs">510000</text>
<text transform="translate(190.4,684.4) rotate(90)" font-size="14.2" fill="#3c3c3c" stroke="#3c3c3c" stroke-width="0.3" textLength="35.6" lengthAdjust="spacingAndGlyphs">511000</text>
<text transform="translate(222.4,684.4) rotate(90)" font-size="14.2" fill="#3c3c3c" stroke="#3c3c3c" stroke-width="0.3" textLength="35.6" lengthAdjust="spacingAndGlyphs">512000</text>
<text transform="translate(254.4,684.4) rotate(90)" font-size="14.2" fill="#3c3c3c" stroke="#3c3c3c" stroke-width="0.3" textLength="35.6" lengthAdjust="spacingAndGlyphs">513000</text>
<text transform="translate(301.4,684.4) rotate(90)" font-size="14.2" fill="#3c3c3c" stroke="#3c3c3c" stroke-width="0.3" textLength="35.6" lengthAdjust="spacingAndGlyphs">508000</text>
<text transform="translate(333.4,684.4) rotate(90)" font-size="14.2" fill="#3c3c3c" stroke="#3c3c3c" stroke-width="0.3" textLength="35.6" lengthAdjust="spacingAndGlyphs">509000</text>
<text transform="translate(365.4,684.4) rotate(90)" font-size="14.2" fill="#3c3c3c" stroke="#3c3c3c" stroke-width="0.3" textLength="35.6" lengthAdjust="spacingAndGlyphs">510000</text>
<text transform="translate(397.4,684.4) rotate(90)" font-size="14.2" fill="#3c3c3c" stroke="#3c3c3c" stroke-width="0.3" textLength="35.6" lengthAdjust="spacingAndGlyphs">511000</text>
<text transform="translate(429.4,684.4) rotate(90)" font-size="14.2" fill="#3c3c3c" stroke="#3c3c3c" stroke-width="0.3" textLength="35.6" lengthAdjust="spacingAndGlyphs">512000</text>
<text transform="translate(461.4,684.4) rotate(90)" font-size="14.2" fill="#3c3c3c" stroke="#3c3c3c" stroke-width="0.3" textLength="35.6" lengthAdjust="spacingAndGlyphs">513000</text>
<rect x="113" y="0.3" width="381" height="37.5" fill="#fff" stroke="#8a8a8a" stroke-width="1"/>
<rect x="118" y="5.4" width="22.6" height="11.6" fill="#d2d3d5" stroke="#333" stroke-width="0.7"/>
<rect x="118" y="21.8" width="22.6" height="10.9" fill="#96989b" stroke="#85878a" stroke-width="0.5"/>
<text x="145.4" y="16.6" font-size="16.0" text-anchor="start" fill="#111" stroke="#111" stroke-width="0.3" textLength="27.5" lengthAdjust="spacingAndGlyphs">Land</text>
<text x="145.4" y="33.0" font-size="16.0" text-anchor="start" fill="#111" stroke="#111" stroke-width="0.3" textLength="100.6" lengthAdjust="spacingAndGlyphs">Jejevo Catchment</text>
<path d="M251.6 11H273" stroke="#3a5fc0" stroke-width="1.2"/>
<circle cx="262" cy="27.6" r="4" fill="#62cf74" stroke="#222" stroke-width="0.9"/>
<text x="279.6" y="16.6" font-size="16.0" text-anchor="start" fill="#111" stroke="#111" stroke-width="0.3" textLength="86.4" lengthAdjust="spacingAndGlyphs">Jejevo Streams</text>
<text x="279.6" y="33.0" font-size="16.0" text-anchor="start" fill="#111" stroke="#111" stroke-width="0.3" textLength="169.4" lengthAdjust="spacingAndGlyphs">Observed Sedimentation Rate</text>
<rect x="502.0" y="40.60" width="21.2" height="11.00" fill="#f5eb2a"/>
<rect x="502.0" y="50.60" width="21.2" height="11.00" fill="#f6e829"/>
<rect x="502.0" y="60.59" width="21.2" height="11.00" fill="#f6e529"/>
<rect x="502.0" y="70.59" width="21.2" height="11.00" fill="#f7e228"/>
<rect x="502.0" y="80.59" width="21.2" height="11.00" fill="#f9da2b"/>
<rect x="502.0" y="90.58" width="21.2" height="11.00" fill="#fad22d"/>
<rect x="502.0" y="100.58" width="21.2" height="11.00" fill="#fbca30"/>
<rect x="502.0" y="110.58" width="21.2" height="11.00" fill="#fcc334"/>
<rect x="502.0" y="120.57" width="21.2" height="11.00" fill="#fcbc37"/>
<rect x="502.0" y="130.57" width="21.2" height="11.00" fill="#fbb53b"/>
<rect x="502.0" y="140.57" width="21.2" height="11.00" fill="#f6b13b"/>
<rect x="502.0" y="150.57" width="21.2" height="11.00" fill="#eeaf39"/>
<rect x="502.0" y="160.56" width="21.2" height="11.00" fill="#e5ae38"/>
<rect x="502.0" y="170.56" width="21.2" height="11.00" fill="#dbae39"/>
<rect x="502.0" y="180.56" width="21.2" height="11.00" fill="#cfb03c"/>
<rect x="502.0" y="190.55" width="21.2" height="11.00" fill="#c1b440"/>
<rect x="502.0" y="200.55" width="21.2" height="11.00" fill="#b5b744"/>
<rect x="502.0" y="210.55" width="21.2" height="11.00" fill="#aabb49"/>
<rect x="502.0" y="220.54" width="21.2" height="11.00" fill="#a0bf4d"/>
<rect x="502.0" y="230.54" width="21.2" height="11.00" fill="#97c352"/>
<rect x="502.0" y="240.54" width="21.2" height="11.00" fill="#8ec458"/>
<rect x="502.0" y="250.53" width="21.2" height="11.00" fill="#83c35e"/>
<rect x="502.0" y="260.53" width="21.2" height="11.00" fill="#79c165"/>
<rect x="502.0" y="270.53" width="21.2" height="11.00" fill="#6fbf6c"/>
<rect x="502.0" y="280.52" width="21.2" height="11.00" fill="#63be75"/>
<rect x="502.0" y="290.52" width="21.2" height="11.00" fill="#56bc7f"/>
<rect x="502.0" y="300.52" width="21.2" height="11.00" fill="#4aba88"/>
<rect x="502.0" y="310.52" width="21.2" height="11.00" fill="#3eb990"/>
<rect x="502.0" y="320.51" width="21.2" height="11.00" fill="#36b798"/>
<rect x="502.0" y="330.51" width="21.2" height="11.00" fill="#2eb6a1"/>
<rect x="502.0" y="340.51" width="21.2" height="11.00" fill="#26b5a9"/>
<rect x="502.0" y="350.50" width="21.2" height="11.00" fill="#23b4b1"/>
<rect x="502.0" y="360.50" width="21.2" height="11.00" fill="#1fb3ba"/>
<rect x="502.0" y="370.50" width="21.2" height="11.00" fill="#1cb1c2"/>
<rect x="502.0" y="380.49" width="21.2" height="11.00" fill="#1bafca"/>
<rect x="502.0" y="390.49" width="21.2" height="11.00" fill="#1bacd3"/>
<rect x="502.0" y="400.49" width="21.2" height="11.00" fill="#1aaadb"/>
<rect x="502.0" y="410.48" width="21.2" height="11.00" fill="#1da7de"/>
<rect x="502.0" y="420.48" width="21.2" height="11.00" fill="#21a4e0"/>
<rect x="502.0" y="430.48" width="21.2" height="11.00" fill="#299fde"/>
<rect x="502.0" y="440.48" width="21.2" height="11.00" fill="#329add"/>
<rect x="502.0" y="450.47" width="21.2" height="11.00" fill="#3a93d9"/>
<rect x="502.0" y="460.47" width="21.2" height="11.00" fill="#418bd3"/>
<rect x="502.0" y="470.47" width="21.2" height="11.00" fill="#4684ce"/>
<rect x="502.0" y="480.46" width="21.2" height="11.00" fill="#487dc9"/>
<rect x="502.0" y="490.46" width="21.2" height="11.00" fill="#4a78c5"/>
<rect x="502.0" y="500.46" width="21.2" height="11.00" fill="#4b73c1"/>
<rect x="502.0" y="510.45" width="21.2" height="11.00" fill="#4c6ebe"/>
<rect x="502.0" y="520.45" width="21.2" height="11.00" fill="#4c6abb"/>
<rect x="502.0" y="530.45" width="21.2" height="11.00" fill="#4c66b8"/>
<rect x="502.0" y="540.44" width="21.2" height="11.00" fill="#4c63b5"/>
<rect x="502.0" y="550.44" width="21.2" height="11.00" fill="#4c5fb2"/>
<rect x="502.0" y="560.44" width="21.2" height="11.00" fill="#4b5baf"/>
<rect x="502.0" y="570.43" width="21.2" height="11.00" fill="#4b57ad"/>
<rect x="502.0" y="580.43" width="21.2" height="11.00" fill="#4a54aa"/>
<rect x="502.0" y="590.43" width="21.2" height="11.00" fill="#4950a7"/>
<rect x="502.0" y="600.42" width="21.2" height="11.00" fill="#484ca5"/>
<rect x="502.0" y="610.42" width="21.2" height="11.00" fill="#4748a2"/>
<rect x="502.0" y="620.42" width="21.2" height="11.00" fill="#4645a0"/>
<rect x="502.0" y="630.42" width="21.2" height="11.00" fill="#45419d"/>
<rect x="502.0" y="640.41" width="21.2" height="11.00" fill="#443e9b"/>
<rect x="502.0" y="650.41" width="21.2" height="11.00" fill="#433b98"/>
<rect x="502.0" y="660.41" width="21.2" height="11.00" fill="#423896"/>
<rect x="502.0" y="670.40" width="21.2" height="11.00" fill="#413593"/>
<rect x="502.0" y="40.6" width="21.2" height="639.8" fill="none" stroke="#8a8a8a" stroke-width="0.8"/>
<path d="M523.2 672.3h-1.3 M523.2 665.5h-1.3 M523.2 659.6h-1.3 M523.2 654.4h-1.3 M523.2 649.8h-2.2 M523.2 619.3h-1.3 M523.2 601.5h-1.3 M523.2 588.8h-1.3 M523.2 579.0h-1.3 M523.2 571.0h-1.3 M523.2 564.2h-1.3 M523.2 558.3h-1.3 M523.2 553.1h-1.3 M523.2 548.5h-2.2 M523.2 518.0h-1.3 M523.2 500.2h-1.3 M523.2 487.5h-1.3 M523.2 477.7h-1.3 M523.2 469.7h-1.3 M523.2 462.9h-1.3 M523.2 457.0h-1.3 M523.2 451.8h-1.3 M523.2 447.2h-2.2 M523.2 416.7h-1.3 M523.2 398.9h-1.3 M523.2 386.2h-1.3 M523.2 376.4h-1.3 M523.2 368.4h-1.3 M523.2 361.6h-1.3 M523.2 355.7h-1.3 M523.2 350.5h-1.3 M523.2 345.9h-2.2 M523.2 315.4h-1.3 M523.2 297.6h-1.3 M523.2 284.9h-1.3 M523.2 275.1h-1.3 M523.2 267.1h-1.3 M523.2 260.3h-1.3 M523.2 254.4h-1.3 M523.2 249.2h-1.3 M523.2 244.6h-2.2 M523.2 214.1h-1.3 M523.2 196.3h-1.3 M523.2 183.6h-1.3 M523.2 173.8h-1.3 M523.2 165.8h-1.3 M523.2 159.0h-1.3 M523.2 153.1h-1.3 M523.2 147.9h-1.3 M523.2 143.3h-2.2 M523.2 112.8h-1.3 M523.2 95.0h-1.3 M523.2 82.3h-1.3 M523.2 72.5h-1.3 M523.2 64.5h-1.3 M523.2 57.7h-1.3 M523.2 51.8h-1.3 M523.2 46.6h-1.3" stroke="#222" stroke-width="0.6" fill="none"/>
<text x="528.5" y="47.2" font-size="15.2" text-anchor="start" fill="#111" stroke="#111" stroke-width="0.3" textLength="20.0" lengthAdjust="spacingAndGlyphs">100</text>
<text x="528.5" y="147.2" font-size="15.2" text-anchor="start" fill="#111" stroke="#111" stroke-width="0.3" textLength="13.4" lengthAdjust="spacingAndGlyphs">10</text>
<text x="528.5" y="249.2" font-size="15.2" text-anchor="start" fill="#111" stroke="#111" stroke-width="0.3" textLength="6.2" lengthAdjust="spacingAndGlyphs">1</text>
<text x="528.5" y="350.8" font-size="15.2" text-anchor="start" fill="#111" stroke="#111" stroke-width="0.3" textLength="17.5" lengthAdjust="spacingAndGlyphs">0.1</text>
<text x="528.5" y="453.2" font-size="15.2" text-anchor="start" fill="#111" stroke="#111" stroke-width="0.3" textLength="24.4" lengthAdjust="spacingAndGlyphs">0.01</text>
<text x="528.5" y="553.6" font-size="15.2" text-anchor="start" fill="#111" stroke="#111" stroke-width="0.3" textLength="31.0" lengthAdjust="spacingAndGlyphs">0.001</text>
<text x="528.5" y="654.8" font-size="15.2" text-anchor="start" fill="#111" stroke="#111" stroke-width="0.3" textLength="36.6" lengthAdjust="spacingAndGlyphs">0.0001</text>
<text transform="translate(563,279) rotate(90)" font-size="16" fill="#111" stroke="#111" stroke-width="0.3" textLength="168" lengthAdjust="spacingAndGlyphs">Sedimentation (mg cm<tspan font-size="8.5" dy="-5">-2</tspan><tspan dy="5"> day</tspan><tspan font-size="8.5" dy="-5">-1</tspan><tspan dy="5">)</tspan></text>
<text x="34.4" y="35.0" font-size="16.0" text-anchor="start" fill="#111" stroke="#111" stroke-width="0.3" textLength="70.2" lengthAdjust="spacingAndGlyphs">Northing (m)</text>
<text x="484.4" y="703.0" font-size="16.0" text-anchor="start" fill="#111" stroke="#111" stroke-width="0.3" textLength="63.6" lengthAdjust="spacingAndGlyphs">Easting (m)</text>
<text x="247.7" y="737.3" font-size="16.0" text-anchor="start" fill="#111" stroke="#111" stroke-width="0.3" textLength="77.6" lengthAdjust="spacingAndGlyphs">Data-richness</text>
<text transform="translate(11.9,411.5) rotate(-90)" font-size="15.2" fill="#111" stroke="#111" stroke-width="0.3" textLength="101.2" lengthAdjust="spacingAndGlyphs">Model Complexity</text>
<path d="M22.4 36.2 L25 723.2 L503 723.2" fill="none" stroke="#111" stroke-width="1.7"/>
<path d="M13.8 43.2 L22.4 35.8 L29.2 43" fill="none" stroke="#111" stroke-width="1.2"/>
<path d="M495.8 715.6 L503.4 723.2 L495.8 730.4" fill="none" stroke="#111" stroke-width="1.2"/>
</svg>
</body></html>
